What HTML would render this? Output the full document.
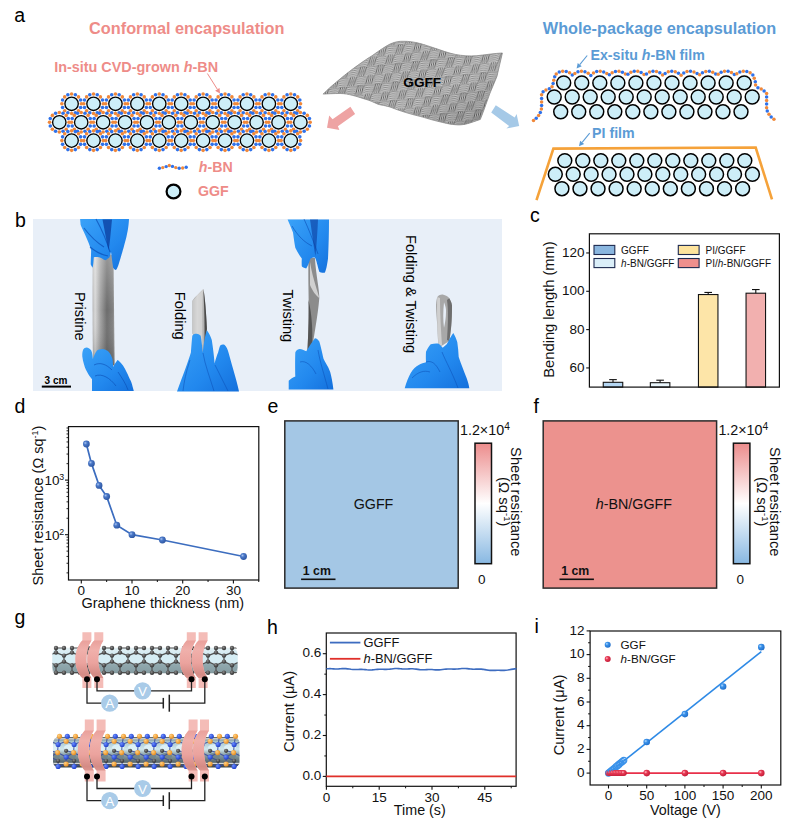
<!DOCTYPE html>
<html><head><meta charset="utf-8"><style>
html,body{margin:0;padding:0;background:#fff;}
svg{display:block;font-family:"Liberation Sans",sans-serif;}
</style></head><body>
<svg width="795" height="825" viewBox="0 0 795 825" font-family="Liberation Sans, sans-serif">
<rect width="795" height="825" fill="#fff"/>
<text x="14.30" y="22.00" font-size="19.5" fill="#000" text-anchor="start">a</text>
<text x="15.00" y="227.00" font-size="19.5" fill="#000" text-anchor="start">b</text>
<text x="530.00" y="222.30" font-size="19.5" fill="#000" text-anchor="start">c</text>
<text x="14.50" y="413.20" font-size="19.5" fill="#000" text-anchor="start">d</text>
<text x="267.50" y="413.20" font-size="19.5" fill="#000" text-anchor="start">e</text>
<text x="533.50" y="413.20" font-size="19.5" fill="#000" text-anchor="start">f</text>
<text x="14.50" y="624.20" font-size="19.5" fill="#000" text-anchor="start">g</text>
<text x="266.90" y="633.50" font-size="19.5" fill="#000" text-anchor="start">h</text>
<text x="534.50" y="633.00" font-size="19.5" fill="#000" text-anchor="start">i</text>
<text x="186.80" y="34.20" font-size="16.3" fill="#ee8c88" text-anchor="middle" font-weight="bold">Conformal encapsulation</text>
<text x="54.20" y="72.30" font-size="14.4" fill="#ee8c88" text-anchor="start" font-weight="bold">In-situ CVD-grown <tspan font-style="italic">h</tspan>-BN</text>
<line x1="207.4" y1="73.5" x2="217.33" y2="89.27" stroke="#ee8c88" stroke-width="1.0"/>
<polygon points="220,93.5 215.13,90.66 219.53,87.88" fill="#ee8c88"/>
<circle cx="71.60" cy="94.05" r="1.8" fill="#f0883a"/><circle cx="75.33" cy="94.79" r="1.8" fill="#2f72ea"/><circle cx="78.49" cy="96.91" r="1.8" fill="#f0883a"/><circle cx="80.61" cy="100.07" r="1.8" fill="#2f72ea"/><circle cx="81.35" cy="103.80" r="1.8" fill="#f0883a"/><circle cx="80.61" cy="107.53" r="1.8" fill="#2f72ea"/><circle cx="78.49" cy="110.69" r="1.8" fill="#f0883a"/><circle cx="75.33" cy="112.81" r="1.8" fill="#2f72ea"/><circle cx="71.60" cy="113.55" r="1.8" fill="#f0883a"/><circle cx="67.87" cy="112.81" r="1.8" fill="#2f72ea"/><circle cx="64.71" cy="110.69" r="1.8" fill="#f0883a"/><circle cx="62.59" cy="107.53" r="1.8" fill="#2f72ea"/><circle cx="61.85" cy="103.80" r="1.8" fill="#f0883a"/><circle cx="62.59" cy="100.07" r="1.8" fill="#2f72ea"/><circle cx="64.71" cy="96.91" r="1.8" fill="#f0883a"/><circle cx="67.87" cy="94.79" r="1.8" fill="#2f72ea"/><circle cx="93.52" cy="94.05" r="1.8" fill="#f0883a"/><circle cx="97.25" cy="94.79" r="1.8" fill="#2f72ea"/><circle cx="100.41" cy="96.91" r="1.8" fill="#f0883a"/><circle cx="102.53" cy="100.07" r="1.8" fill="#2f72ea"/><circle cx="103.27" cy="103.80" r="1.8" fill="#f0883a"/><circle cx="102.53" cy="107.53" r="1.8" fill="#2f72ea"/><circle cx="100.41" cy="110.69" r="1.8" fill="#f0883a"/><circle cx="97.25" cy="112.81" r="1.8" fill="#2f72ea"/><circle cx="93.52" cy="113.55" r="1.8" fill="#f0883a"/><circle cx="89.79" cy="112.81" r="1.8" fill="#2f72ea"/><circle cx="86.63" cy="110.69" r="1.8" fill="#f0883a"/><circle cx="84.51" cy="107.53" r="1.8" fill="#2f72ea"/><circle cx="83.77" cy="103.80" r="1.8" fill="#f0883a"/><circle cx="84.51" cy="100.07" r="1.8" fill="#2f72ea"/><circle cx="86.63" cy="96.91" r="1.8" fill="#f0883a"/><circle cx="89.79" cy="94.79" r="1.8" fill="#2f72ea"/><circle cx="115.44" cy="94.05" r="1.8" fill="#f0883a"/><circle cx="119.17" cy="94.79" r="1.8" fill="#2f72ea"/><circle cx="122.33" cy="96.91" r="1.8" fill="#f0883a"/><circle cx="124.45" cy="100.07" r="1.8" fill="#2f72ea"/><circle cx="125.19" cy="103.80" r="1.8" fill="#f0883a"/><circle cx="124.45" cy="107.53" r="1.8" fill="#2f72ea"/><circle cx="122.33" cy="110.69" r="1.8" fill="#f0883a"/><circle cx="119.17" cy="112.81" r="1.8" fill="#2f72ea"/><circle cx="115.44" cy="113.55" r="1.8" fill="#f0883a"/><circle cx="111.71" cy="112.81" r="1.8" fill="#2f72ea"/><circle cx="108.55" cy="110.69" r="1.8" fill="#f0883a"/><circle cx="106.43" cy="107.53" r="1.8" fill="#2f72ea"/><circle cx="105.69" cy="103.80" r="1.8" fill="#f0883a"/><circle cx="106.43" cy="100.07" r="1.8" fill="#2f72ea"/><circle cx="108.55" cy="96.91" r="1.8" fill="#f0883a"/><circle cx="111.71" cy="94.79" r="1.8" fill="#2f72ea"/><circle cx="137.36" cy="94.05" r="1.8" fill="#f0883a"/><circle cx="141.09" cy="94.79" r="1.8" fill="#2f72ea"/><circle cx="144.25" cy="96.91" r="1.8" fill="#f0883a"/><circle cx="146.37" cy="100.07" r="1.8" fill="#2f72ea"/><circle cx="147.11" cy="103.80" r="1.8" fill="#f0883a"/><circle cx="146.37" cy="107.53" r="1.8" fill="#2f72ea"/><circle cx="144.25" cy="110.69" r="1.8" fill="#f0883a"/><circle cx="141.09" cy="112.81" r="1.8" fill="#2f72ea"/><circle cx="137.36" cy="113.55" r="1.8" fill="#f0883a"/><circle cx="133.63" cy="112.81" r="1.8" fill="#2f72ea"/><circle cx="130.47" cy="110.69" r="1.8" fill="#f0883a"/><circle cx="128.35" cy="107.53" r="1.8" fill="#2f72ea"/><circle cx="127.61" cy="103.80" r="1.8" fill="#f0883a"/><circle cx="128.35" cy="100.07" r="1.8" fill="#2f72ea"/><circle cx="130.47" cy="96.91" r="1.8" fill="#f0883a"/><circle cx="133.63" cy="94.79" r="1.8" fill="#2f72ea"/><circle cx="159.28" cy="94.05" r="1.8" fill="#f0883a"/><circle cx="163.01" cy="94.79" r="1.8" fill="#2f72ea"/><circle cx="166.17" cy="96.91" r="1.8" fill="#f0883a"/><circle cx="168.29" cy="100.07" r="1.8" fill="#2f72ea"/><circle cx="169.03" cy="103.80" r="1.8" fill="#f0883a"/><circle cx="168.29" cy="107.53" r="1.8" fill="#2f72ea"/><circle cx="166.17" cy="110.69" r="1.8" fill="#f0883a"/><circle cx="163.01" cy="112.81" r="1.8" fill="#2f72ea"/><circle cx="159.28" cy="113.55" r="1.8" fill="#f0883a"/><circle cx="155.55" cy="112.81" r="1.8" fill="#2f72ea"/><circle cx="152.39" cy="110.69" r="1.8" fill="#f0883a"/><circle cx="150.27" cy="107.53" r="1.8" fill="#2f72ea"/><circle cx="149.53" cy="103.80" r="1.8" fill="#f0883a"/><circle cx="150.27" cy="100.07" r="1.8" fill="#2f72ea"/><circle cx="152.39" cy="96.91" r="1.8" fill="#f0883a"/><circle cx="155.55" cy="94.79" r="1.8" fill="#2f72ea"/><circle cx="181.20" cy="94.05" r="1.8" fill="#f0883a"/><circle cx="184.93" cy="94.79" r="1.8" fill="#2f72ea"/><circle cx="188.09" cy="96.91" r="1.8" fill="#f0883a"/><circle cx="190.21" cy="100.07" r="1.8" fill="#2f72ea"/><circle cx="190.95" cy="103.80" r="1.8" fill="#f0883a"/><circle cx="190.21" cy="107.53" r="1.8" fill="#2f72ea"/><circle cx="188.09" cy="110.69" r="1.8" fill="#f0883a"/><circle cx="184.93" cy="112.81" r="1.8" fill="#2f72ea"/><circle cx="181.20" cy="113.55" r="1.8" fill="#f0883a"/><circle cx="177.47" cy="112.81" r="1.8" fill="#2f72ea"/><circle cx="174.31" cy="110.69" r="1.8" fill="#f0883a"/><circle cx="172.19" cy="107.53" r="1.8" fill="#2f72ea"/><circle cx="171.45" cy="103.80" r="1.8" fill="#f0883a"/><circle cx="172.19" cy="100.07" r="1.8" fill="#2f72ea"/><circle cx="174.31" cy="96.91" r="1.8" fill="#f0883a"/><circle cx="177.47" cy="94.79" r="1.8" fill="#2f72ea"/><circle cx="203.12" cy="94.05" r="1.8" fill="#f0883a"/><circle cx="206.85" cy="94.79" r="1.8" fill="#2f72ea"/><circle cx="210.01" cy="96.91" r="1.8" fill="#f0883a"/><circle cx="212.13" cy="100.07" r="1.8" fill="#2f72ea"/><circle cx="212.87" cy="103.80" r="1.8" fill="#f0883a"/><circle cx="212.13" cy="107.53" r="1.8" fill="#2f72ea"/><circle cx="210.01" cy="110.69" r="1.8" fill="#f0883a"/><circle cx="206.85" cy="112.81" r="1.8" fill="#2f72ea"/><circle cx="203.12" cy="113.55" r="1.8" fill="#f0883a"/><circle cx="199.39" cy="112.81" r="1.8" fill="#2f72ea"/><circle cx="196.23" cy="110.69" r="1.8" fill="#f0883a"/><circle cx="194.11" cy="107.53" r="1.8" fill="#2f72ea"/><circle cx="193.37" cy="103.80" r="1.8" fill="#f0883a"/><circle cx="194.11" cy="100.07" r="1.8" fill="#2f72ea"/><circle cx="196.23" cy="96.91" r="1.8" fill="#f0883a"/><circle cx="199.39" cy="94.79" r="1.8" fill="#2f72ea"/><circle cx="225.04" cy="94.05" r="1.8" fill="#f0883a"/><circle cx="228.77" cy="94.79" r="1.8" fill="#2f72ea"/><circle cx="231.93" cy="96.91" r="1.8" fill="#f0883a"/><circle cx="234.05" cy="100.07" r="1.8" fill="#2f72ea"/><circle cx="234.79" cy="103.80" r="1.8" fill="#f0883a"/><circle cx="234.05" cy="107.53" r="1.8" fill="#2f72ea"/><circle cx="231.93" cy="110.69" r="1.8" fill="#f0883a"/><circle cx="228.77" cy="112.81" r="1.8" fill="#2f72ea"/><circle cx="225.04" cy="113.55" r="1.8" fill="#f0883a"/><circle cx="221.31" cy="112.81" r="1.8" fill="#2f72ea"/><circle cx="218.15" cy="110.69" r="1.8" fill="#f0883a"/><circle cx="216.03" cy="107.53" r="1.8" fill="#2f72ea"/><circle cx="215.29" cy="103.80" r="1.8" fill="#f0883a"/><circle cx="216.03" cy="100.07" r="1.8" fill="#2f72ea"/><circle cx="218.15" cy="96.91" r="1.8" fill="#f0883a"/><circle cx="221.31" cy="94.79" r="1.8" fill="#2f72ea"/><circle cx="246.96" cy="94.05" r="1.8" fill="#f0883a"/><circle cx="250.69" cy="94.79" r="1.8" fill="#2f72ea"/><circle cx="253.85" cy="96.91" r="1.8" fill="#f0883a"/><circle cx="255.97" cy="100.07" r="1.8" fill="#2f72ea"/><circle cx="256.71" cy="103.80" r="1.8" fill="#f0883a"/><circle cx="255.97" cy="107.53" r="1.8" fill="#2f72ea"/><circle cx="253.85" cy="110.69" r="1.8" fill="#f0883a"/><circle cx="250.69" cy="112.81" r="1.8" fill="#2f72ea"/><circle cx="246.96" cy="113.55" r="1.8" fill="#f0883a"/><circle cx="243.23" cy="112.81" r="1.8" fill="#2f72ea"/><circle cx="240.07" cy="110.69" r="1.8" fill="#f0883a"/><circle cx="237.95" cy="107.53" r="1.8" fill="#2f72ea"/><circle cx="237.21" cy="103.80" r="1.8" fill="#f0883a"/><circle cx="237.95" cy="100.07" r="1.8" fill="#2f72ea"/><circle cx="240.07" cy="96.91" r="1.8" fill="#f0883a"/><circle cx="243.23" cy="94.79" r="1.8" fill="#2f72ea"/><circle cx="268.88" cy="94.05" r="1.8" fill="#f0883a"/><circle cx="272.61" cy="94.79" r="1.8" fill="#2f72ea"/><circle cx="275.77" cy="96.91" r="1.8" fill="#f0883a"/><circle cx="277.89" cy="100.07" r="1.8" fill="#2f72ea"/><circle cx="278.63" cy="103.80" r="1.8" fill="#f0883a"/><circle cx="277.89" cy="107.53" r="1.8" fill="#2f72ea"/><circle cx="275.77" cy="110.69" r="1.8" fill="#f0883a"/><circle cx="272.61" cy="112.81" r="1.8" fill="#2f72ea"/><circle cx="268.88" cy="113.55" r="1.8" fill="#f0883a"/><circle cx="265.15" cy="112.81" r="1.8" fill="#2f72ea"/><circle cx="261.99" cy="110.69" r="1.8" fill="#f0883a"/><circle cx="259.87" cy="107.53" r="1.8" fill="#2f72ea"/><circle cx="259.13" cy="103.80" r="1.8" fill="#f0883a"/><circle cx="259.87" cy="100.07" r="1.8" fill="#2f72ea"/><circle cx="261.99" cy="96.91" r="1.8" fill="#f0883a"/><circle cx="265.15" cy="94.79" r="1.8" fill="#2f72ea"/><circle cx="290.80" cy="94.05" r="1.8" fill="#f0883a"/><circle cx="294.53" cy="94.79" r="1.8" fill="#2f72ea"/><circle cx="297.69" cy="96.91" r="1.8" fill="#f0883a"/><circle cx="299.81" cy="100.07" r="1.8" fill="#2f72ea"/><circle cx="300.55" cy="103.80" r="1.8" fill="#f0883a"/><circle cx="299.81" cy="107.53" r="1.8" fill="#2f72ea"/><circle cx="297.69" cy="110.69" r="1.8" fill="#f0883a"/><circle cx="294.53" cy="112.81" r="1.8" fill="#2f72ea"/><circle cx="290.80" cy="113.55" r="1.8" fill="#f0883a"/><circle cx="287.07" cy="112.81" r="1.8" fill="#2f72ea"/><circle cx="283.91" cy="110.69" r="1.8" fill="#f0883a"/><circle cx="281.79" cy="107.53" r="1.8" fill="#2f72ea"/><circle cx="281.05" cy="103.80" r="1.8" fill="#f0883a"/><circle cx="281.79" cy="100.07" r="1.8" fill="#2f72ea"/><circle cx="283.91" cy="96.91" r="1.8" fill="#f0883a"/><circle cx="287.07" cy="94.79" r="1.8" fill="#2f72ea"/><circle cx="59.30" cy="112.55" r="1.8" fill="#f0883a"/><circle cx="63.03" cy="113.29" r="1.8" fill="#2f72ea"/><circle cx="66.19" cy="115.41" r="1.8" fill="#f0883a"/><circle cx="68.31" cy="118.57" r="1.8" fill="#2f72ea"/><circle cx="69.05" cy="122.30" r="1.8" fill="#f0883a"/><circle cx="68.31" cy="126.03" r="1.8" fill="#2f72ea"/><circle cx="66.19" cy="129.19" r="1.8" fill="#f0883a"/><circle cx="63.03" cy="131.31" r="1.8" fill="#2f72ea"/><circle cx="59.30" cy="132.05" r="1.8" fill="#f0883a"/><circle cx="55.57" cy="131.31" r="1.8" fill="#2f72ea"/><circle cx="52.41" cy="129.19" r="1.8" fill="#f0883a"/><circle cx="50.29" cy="126.03" r="1.8" fill="#2f72ea"/><circle cx="49.55" cy="122.30" r="1.8" fill="#f0883a"/><circle cx="50.29" cy="118.57" r="1.8" fill="#2f72ea"/><circle cx="52.41" cy="115.41" r="1.8" fill="#f0883a"/><circle cx="55.57" cy="113.29" r="1.8" fill="#2f72ea"/><circle cx="81.22" cy="112.55" r="1.8" fill="#f0883a"/><circle cx="84.95" cy="113.29" r="1.8" fill="#2f72ea"/><circle cx="88.11" cy="115.41" r="1.8" fill="#f0883a"/><circle cx="90.23" cy="118.57" r="1.8" fill="#2f72ea"/><circle cx="90.97" cy="122.30" r="1.8" fill="#f0883a"/><circle cx="90.23" cy="126.03" r="1.8" fill="#2f72ea"/><circle cx="88.11" cy="129.19" r="1.8" fill="#f0883a"/><circle cx="84.95" cy="131.31" r="1.8" fill="#2f72ea"/><circle cx="81.22" cy="132.05" r="1.8" fill="#f0883a"/><circle cx="77.49" cy="131.31" r="1.8" fill="#2f72ea"/><circle cx="74.33" cy="129.19" r="1.8" fill="#f0883a"/><circle cx="72.21" cy="126.03" r="1.8" fill="#2f72ea"/><circle cx="71.47" cy="122.30" r="1.8" fill="#f0883a"/><circle cx="72.21" cy="118.57" r="1.8" fill="#2f72ea"/><circle cx="74.33" cy="115.41" r="1.8" fill="#f0883a"/><circle cx="77.49" cy="113.29" r="1.8" fill="#2f72ea"/><circle cx="103.14" cy="112.55" r="1.8" fill="#f0883a"/><circle cx="106.87" cy="113.29" r="1.8" fill="#2f72ea"/><circle cx="110.03" cy="115.41" r="1.8" fill="#f0883a"/><circle cx="112.15" cy="118.57" r="1.8" fill="#2f72ea"/><circle cx="112.89" cy="122.30" r="1.8" fill="#f0883a"/><circle cx="112.15" cy="126.03" r="1.8" fill="#2f72ea"/><circle cx="110.03" cy="129.19" r="1.8" fill="#f0883a"/><circle cx="106.87" cy="131.31" r="1.8" fill="#2f72ea"/><circle cx="103.14" cy="132.05" r="1.8" fill="#f0883a"/><circle cx="99.41" cy="131.31" r="1.8" fill="#2f72ea"/><circle cx="96.25" cy="129.19" r="1.8" fill="#f0883a"/><circle cx="94.13" cy="126.03" r="1.8" fill="#2f72ea"/><circle cx="93.39" cy="122.30" r="1.8" fill="#f0883a"/><circle cx="94.13" cy="118.57" r="1.8" fill="#2f72ea"/><circle cx="96.25" cy="115.41" r="1.8" fill="#f0883a"/><circle cx="99.41" cy="113.29" r="1.8" fill="#2f72ea"/><circle cx="125.06" cy="112.55" r="1.8" fill="#f0883a"/><circle cx="128.79" cy="113.29" r="1.8" fill="#2f72ea"/><circle cx="131.95" cy="115.41" r="1.8" fill="#f0883a"/><circle cx="134.07" cy="118.57" r="1.8" fill="#2f72ea"/><circle cx="134.81" cy="122.30" r="1.8" fill="#f0883a"/><circle cx="134.07" cy="126.03" r="1.8" fill="#2f72ea"/><circle cx="131.95" cy="129.19" r="1.8" fill="#f0883a"/><circle cx="128.79" cy="131.31" r="1.8" fill="#2f72ea"/><circle cx="125.06" cy="132.05" r="1.8" fill="#f0883a"/><circle cx="121.33" cy="131.31" r="1.8" fill="#2f72ea"/><circle cx="118.17" cy="129.19" r="1.8" fill="#f0883a"/><circle cx="116.05" cy="126.03" r="1.8" fill="#2f72ea"/><circle cx="115.31" cy="122.30" r="1.8" fill="#f0883a"/><circle cx="116.05" cy="118.57" r="1.8" fill="#2f72ea"/><circle cx="118.17" cy="115.41" r="1.8" fill="#f0883a"/><circle cx="121.33" cy="113.29" r="1.8" fill="#2f72ea"/><circle cx="146.98" cy="112.55" r="1.8" fill="#f0883a"/><circle cx="150.71" cy="113.29" r="1.8" fill="#2f72ea"/><circle cx="153.87" cy="115.41" r="1.8" fill="#f0883a"/><circle cx="155.99" cy="118.57" r="1.8" fill="#2f72ea"/><circle cx="156.73" cy="122.30" r="1.8" fill="#f0883a"/><circle cx="155.99" cy="126.03" r="1.8" fill="#2f72ea"/><circle cx="153.87" cy="129.19" r="1.8" fill="#f0883a"/><circle cx="150.71" cy="131.31" r="1.8" fill="#2f72ea"/><circle cx="146.98" cy="132.05" r="1.8" fill="#f0883a"/><circle cx="143.25" cy="131.31" r="1.8" fill="#2f72ea"/><circle cx="140.09" cy="129.19" r="1.8" fill="#f0883a"/><circle cx="137.97" cy="126.03" r="1.8" fill="#2f72ea"/><circle cx="137.23" cy="122.30" r="1.8" fill="#f0883a"/><circle cx="137.97" cy="118.57" r="1.8" fill="#2f72ea"/><circle cx="140.09" cy="115.41" r="1.8" fill="#f0883a"/><circle cx="143.25" cy="113.29" r="1.8" fill="#2f72ea"/><circle cx="168.90" cy="112.55" r="1.8" fill="#f0883a"/><circle cx="172.63" cy="113.29" r="1.8" fill="#2f72ea"/><circle cx="175.79" cy="115.41" r="1.8" fill="#f0883a"/><circle cx="177.91" cy="118.57" r="1.8" fill="#2f72ea"/><circle cx="178.65" cy="122.30" r="1.8" fill="#f0883a"/><circle cx="177.91" cy="126.03" r="1.8" fill="#2f72ea"/><circle cx="175.79" cy="129.19" r="1.8" fill="#f0883a"/><circle cx="172.63" cy="131.31" r="1.8" fill="#2f72ea"/><circle cx="168.90" cy="132.05" r="1.8" fill="#f0883a"/><circle cx="165.17" cy="131.31" r="1.8" fill="#2f72ea"/><circle cx="162.01" cy="129.19" r="1.8" fill="#f0883a"/><circle cx="159.89" cy="126.03" r="1.8" fill="#2f72ea"/><circle cx="159.15" cy="122.30" r="1.8" fill="#f0883a"/><circle cx="159.89" cy="118.57" r="1.8" fill="#2f72ea"/><circle cx="162.01" cy="115.41" r="1.8" fill="#f0883a"/><circle cx="165.17" cy="113.29" r="1.8" fill="#2f72ea"/><circle cx="190.82" cy="112.55" r="1.8" fill="#f0883a"/><circle cx="194.55" cy="113.29" r="1.8" fill="#2f72ea"/><circle cx="197.71" cy="115.41" r="1.8" fill="#f0883a"/><circle cx="199.83" cy="118.57" r="1.8" fill="#2f72ea"/><circle cx="200.57" cy="122.30" r="1.8" fill="#f0883a"/><circle cx="199.83" cy="126.03" r="1.8" fill="#2f72ea"/><circle cx="197.71" cy="129.19" r="1.8" fill="#f0883a"/><circle cx="194.55" cy="131.31" r="1.8" fill="#2f72ea"/><circle cx="190.82" cy="132.05" r="1.8" fill="#f0883a"/><circle cx="187.09" cy="131.31" r="1.8" fill="#2f72ea"/><circle cx="183.93" cy="129.19" r="1.8" fill="#f0883a"/><circle cx="181.81" cy="126.03" r="1.8" fill="#2f72ea"/><circle cx="181.07" cy="122.30" r="1.8" fill="#f0883a"/><circle cx="181.81" cy="118.57" r="1.8" fill="#2f72ea"/><circle cx="183.93" cy="115.41" r="1.8" fill="#f0883a"/><circle cx="187.09" cy="113.29" r="1.8" fill="#2f72ea"/><circle cx="212.74" cy="112.55" r="1.8" fill="#f0883a"/><circle cx="216.47" cy="113.29" r="1.8" fill="#2f72ea"/><circle cx="219.63" cy="115.41" r="1.8" fill="#f0883a"/><circle cx="221.75" cy="118.57" r="1.8" fill="#2f72ea"/><circle cx="222.49" cy="122.30" r="1.8" fill="#f0883a"/><circle cx="221.75" cy="126.03" r="1.8" fill="#2f72ea"/><circle cx="219.63" cy="129.19" r="1.8" fill="#f0883a"/><circle cx="216.47" cy="131.31" r="1.8" fill="#2f72ea"/><circle cx="212.74" cy="132.05" r="1.8" fill="#f0883a"/><circle cx="209.01" cy="131.31" r="1.8" fill="#2f72ea"/><circle cx="205.85" cy="129.19" r="1.8" fill="#f0883a"/><circle cx="203.73" cy="126.03" r="1.8" fill="#2f72ea"/><circle cx="202.99" cy="122.30" r="1.8" fill="#f0883a"/><circle cx="203.73" cy="118.57" r="1.8" fill="#2f72ea"/><circle cx="205.85" cy="115.41" r="1.8" fill="#f0883a"/><circle cx="209.01" cy="113.29" r="1.8" fill="#2f72ea"/><circle cx="234.66" cy="112.55" r="1.8" fill="#f0883a"/><circle cx="238.39" cy="113.29" r="1.8" fill="#2f72ea"/><circle cx="241.55" cy="115.41" r="1.8" fill="#f0883a"/><circle cx="243.67" cy="118.57" r="1.8" fill="#2f72ea"/><circle cx="244.41" cy="122.30" r="1.8" fill="#f0883a"/><circle cx="243.67" cy="126.03" r="1.8" fill="#2f72ea"/><circle cx="241.55" cy="129.19" r="1.8" fill="#f0883a"/><circle cx="238.39" cy="131.31" r="1.8" fill="#2f72ea"/><circle cx="234.66" cy="132.05" r="1.8" fill="#f0883a"/><circle cx="230.93" cy="131.31" r="1.8" fill="#2f72ea"/><circle cx="227.77" cy="129.19" r="1.8" fill="#f0883a"/><circle cx="225.65" cy="126.03" r="1.8" fill="#2f72ea"/><circle cx="224.91" cy="122.30" r="1.8" fill="#f0883a"/><circle cx="225.65" cy="118.57" r="1.8" fill="#2f72ea"/><circle cx="227.77" cy="115.41" r="1.8" fill="#f0883a"/><circle cx="230.93" cy="113.29" r="1.8" fill="#2f72ea"/><circle cx="256.58" cy="112.55" r="1.8" fill="#f0883a"/><circle cx="260.31" cy="113.29" r="1.8" fill="#2f72ea"/><circle cx="263.47" cy="115.41" r="1.8" fill="#f0883a"/><circle cx="265.59" cy="118.57" r="1.8" fill="#2f72ea"/><circle cx="266.33" cy="122.30" r="1.8" fill="#f0883a"/><circle cx="265.59" cy="126.03" r="1.8" fill="#2f72ea"/><circle cx="263.47" cy="129.19" r="1.8" fill="#f0883a"/><circle cx="260.31" cy="131.31" r="1.8" fill="#2f72ea"/><circle cx="256.58" cy="132.05" r="1.8" fill="#f0883a"/><circle cx="252.85" cy="131.31" r="1.8" fill="#2f72ea"/><circle cx="249.69" cy="129.19" r="1.8" fill="#f0883a"/><circle cx="247.57" cy="126.03" r="1.8" fill="#2f72ea"/><circle cx="246.83" cy="122.30" r="1.8" fill="#f0883a"/><circle cx="247.57" cy="118.57" r="1.8" fill="#2f72ea"/><circle cx="249.69" cy="115.41" r="1.8" fill="#f0883a"/><circle cx="252.85" cy="113.29" r="1.8" fill="#2f72ea"/><circle cx="278.50" cy="112.55" r="1.8" fill="#f0883a"/><circle cx="282.23" cy="113.29" r="1.8" fill="#2f72ea"/><circle cx="285.39" cy="115.41" r="1.8" fill="#f0883a"/><circle cx="287.51" cy="118.57" r="1.8" fill="#2f72ea"/><circle cx="288.25" cy="122.30" r="1.8" fill="#f0883a"/><circle cx="287.51" cy="126.03" r="1.8" fill="#2f72ea"/><circle cx="285.39" cy="129.19" r="1.8" fill="#f0883a"/><circle cx="282.23" cy="131.31" r="1.8" fill="#2f72ea"/><circle cx="278.50" cy="132.05" r="1.8" fill="#f0883a"/><circle cx="274.77" cy="131.31" r="1.8" fill="#2f72ea"/><circle cx="271.61" cy="129.19" r="1.8" fill="#f0883a"/><circle cx="269.49" cy="126.03" r="1.8" fill="#2f72ea"/><circle cx="268.75" cy="122.30" r="1.8" fill="#f0883a"/><circle cx="269.49" cy="118.57" r="1.8" fill="#2f72ea"/><circle cx="271.61" cy="115.41" r="1.8" fill="#f0883a"/><circle cx="274.77" cy="113.29" r="1.8" fill="#2f72ea"/><circle cx="300.42" cy="112.55" r="1.8" fill="#f0883a"/><circle cx="304.15" cy="113.29" r="1.8" fill="#2f72ea"/><circle cx="307.31" cy="115.41" r="1.8" fill="#f0883a"/><circle cx="309.43" cy="118.57" r="1.8" fill="#2f72ea"/><circle cx="310.17" cy="122.30" r="1.8" fill="#f0883a"/><circle cx="309.43" cy="126.03" r="1.8" fill="#2f72ea"/><circle cx="307.31" cy="129.19" r="1.8" fill="#f0883a"/><circle cx="304.15" cy="131.31" r="1.8" fill="#2f72ea"/><circle cx="300.42" cy="132.05" r="1.8" fill="#f0883a"/><circle cx="296.69" cy="131.31" r="1.8" fill="#2f72ea"/><circle cx="293.53" cy="129.19" r="1.8" fill="#f0883a"/><circle cx="291.41" cy="126.03" r="1.8" fill="#2f72ea"/><circle cx="290.67" cy="122.30" r="1.8" fill="#f0883a"/><circle cx="291.41" cy="118.57" r="1.8" fill="#2f72ea"/><circle cx="293.53" cy="115.41" r="1.8" fill="#f0883a"/><circle cx="296.69" cy="113.29" r="1.8" fill="#2f72ea"/><circle cx="71.60" cy="130.85" r="1.8" fill="#f0883a"/><circle cx="75.33" cy="131.59" r="1.8" fill="#2f72ea"/><circle cx="78.49" cy="133.71" r="1.8" fill="#f0883a"/><circle cx="80.61" cy="136.87" r="1.8" fill="#2f72ea"/><circle cx="81.35" cy="140.60" r="1.8" fill="#f0883a"/><circle cx="80.61" cy="144.33" r="1.8" fill="#2f72ea"/><circle cx="78.49" cy="147.49" r="1.8" fill="#f0883a"/><circle cx="75.33" cy="149.61" r="1.8" fill="#2f72ea"/><circle cx="71.60" cy="150.35" r="1.8" fill="#f0883a"/><circle cx="67.87" cy="149.61" r="1.8" fill="#2f72ea"/><circle cx="64.71" cy="147.49" r="1.8" fill="#f0883a"/><circle cx="62.59" cy="144.33" r="1.8" fill="#2f72ea"/><circle cx="61.85" cy="140.60" r="1.8" fill="#f0883a"/><circle cx="62.59" cy="136.87" r="1.8" fill="#2f72ea"/><circle cx="64.71" cy="133.71" r="1.8" fill="#f0883a"/><circle cx="67.87" cy="131.59" r="1.8" fill="#2f72ea"/><circle cx="93.52" cy="130.85" r="1.8" fill="#f0883a"/><circle cx="97.25" cy="131.59" r="1.8" fill="#2f72ea"/><circle cx="100.41" cy="133.71" r="1.8" fill="#f0883a"/><circle cx="102.53" cy="136.87" r="1.8" fill="#2f72ea"/><circle cx="103.27" cy="140.60" r="1.8" fill="#f0883a"/><circle cx="102.53" cy="144.33" r="1.8" fill="#2f72ea"/><circle cx="100.41" cy="147.49" r="1.8" fill="#f0883a"/><circle cx="97.25" cy="149.61" r="1.8" fill="#2f72ea"/><circle cx="93.52" cy="150.35" r="1.8" fill="#f0883a"/><circle cx="89.79" cy="149.61" r="1.8" fill="#2f72ea"/><circle cx="86.63" cy="147.49" r="1.8" fill="#f0883a"/><circle cx="84.51" cy="144.33" r="1.8" fill="#2f72ea"/><circle cx="83.77" cy="140.60" r="1.8" fill="#f0883a"/><circle cx="84.51" cy="136.87" r="1.8" fill="#2f72ea"/><circle cx="86.63" cy="133.71" r="1.8" fill="#f0883a"/><circle cx="89.79" cy="131.59" r="1.8" fill="#2f72ea"/><circle cx="115.44" cy="130.85" r="1.8" fill="#f0883a"/><circle cx="119.17" cy="131.59" r="1.8" fill="#2f72ea"/><circle cx="122.33" cy="133.71" r="1.8" fill="#f0883a"/><circle cx="124.45" cy="136.87" r="1.8" fill="#2f72ea"/><circle cx="125.19" cy="140.60" r="1.8" fill="#f0883a"/><circle cx="124.45" cy="144.33" r="1.8" fill="#2f72ea"/><circle cx="122.33" cy="147.49" r="1.8" fill="#f0883a"/><circle cx="119.17" cy="149.61" r="1.8" fill="#2f72ea"/><circle cx="115.44" cy="150.35" r="1.8" fill="#f0883a"/><circle cx="111.71" cy="149.61" r="1.8" fill="#2f72ea"/><circle cx="108.55" cy="147.49" r="1.8" fill="#f0883a"/><circle cx="106.43" cy="144.33" r="1.8" fill="#2f72ea"/><circle cx="105.69" cy="140.60" r="1.8" fill="#f0883a"/><circle cx="106.43" cy="136.87" r="1.8" fill="#2f72ea"/><circle cx="108.55" cy="133.71" r="1.8" fill="#f0883a"/><circle cx="111.71" cy="131.59" r="1.8" fill="#2f72ea"/><circle cx="137.36" cy="130.85" r="1.8" fill="#f0883a"/><circle cx="141.09" cy="131.59" r="1.8" fill="#2f72ea"/><circle cx="144.25" cy="133.71" r="1.8" fill="#f0883a"/><circle cx="146.37" cy="136.87" r="1.8" fill="#2f72ea"/><circle cx="147.11" cy="140.60" r="1.8" fill="#f0883a"/><circle cx="146.37" cy="144.33" r="1.8" fill="#2f72ea"/><circle cx="144.25" cy="147.49" r="1.8" fill="#f0883a"/><circle cx="141.09" cy="149.61" r="1.8" fill="#2f72ea"/><circle cx="137.36" cy="150.35" r="1.8" fill="#f0883a"/><circle cx="133.63" cy="149.61" r="1.8" fill="#2f72ea"/><circle cx="130.47" cy="147.49" r="1.8" fill="#f0883a"/><circle cx="128.35" cy="144.33" r="1.8" fill="#2f72ea"/><circle cx="127.61" cy="140.60" r="1.8" fill="#f0883a"/><circle cx="128.35" cy="136.87" r="1.8" fill="#2f72ea"/><circle cx="130.47" cy="133.71" r="1.8" fill="#f0883a"/><circle cx="133.63" cy="131.59" r="1.8" fill="#2f72ea"/><circle cx="159.28" cy="130.85" r="1.8" fill="#f0883a"/><circle cx="163.01" cy="131.59" r="1.8" fill="#2f72ea"/><circle cx="166.17" cy="133.71" r="1.8" fill="#f0883a"/><circle cx="168.29" cy="136.87" r="1.8" fill="#2f72ea"/><circle cx="169.03" cy="140.60" r="1.8" fill="#f0883a"/><circle cx="168.29" cy="144.33" r="1.8" fill="#2f72ea"/><circle cx="166.17" cy="147.49" r="1.8" fill="#f0883a"/><circle cx="163.01" cy="149.61" r="1.8" fill="#2f72ea"/><circle cx="159.28" cy="150.35" r="1.8" fill="#f0883a"/><circle cx="155.55" cy="149.61" r="1.8" fill="#2f72ea"/><circle cx="152.39" cy="147.49" r="1.8" fill="#f0883a"/><circle cx="150.27" cy="144.33" r="1.8" fill="#2f72ea"/><circle cx="149.53" cy="140.60" r="1.8" fill="#f0883a"/><circle cx="150.27" cy="136.87" r="1.8" fill="#2f72ea"/><circle cx="152.39" cy="133.71" r="1.8" fill="#f0883a"/><circle cx="155.55" cy="131.59" r="1.8" fill="#2f72ea"/><circle cx="181.20" cy="130.85" r="1.8" fill="#f0883a"/><circle cx="184.93" cy="131.59" r="1.8" fill="#2f72ea"/><circle cx="188.09" cy="133.71" r="1.8" fill="#f0883a"/><circle cx="190.21" cy="136.87" r="1.8" fill="#2f72ea"/><circle cx="190.95" cy="140.60" r="1.8" fill="#f0883a"/><circle cx="190.21" cy="144.33" r="1.8" fill="#2f72ea"/><circle cx="188.09" cy="147.49" r="1.8" fill="#f0883a"/><circle cx="184.93" cy="149.61" r="1.8" fill="#2f72ea"/><circle cx="181.20" cy="150.35" r="1.8" fill="#f0883a"/><circle cx="177.47" cy="149.61" r="1.8" fill="#2f72ea"/><circle cx="174.31" cy="147.49" r="1.8" fill="#f0883a"/><circle cx="172.19" cy="144.33" r="1.8" fill="#2f72ea"/><circle cx="171.45" cy="140.60" r="1.8" fill="#f0883a"/><circle cx="172.19" cy="136.87" r="1.8" fill="#2f72ea"/><circle cx="174.31" cy="133.71" r="1.8" fill="#f0883a"/><circle cx="177.47" cy="131.59" r="1.8" fill="#2f72ea"/><circle cx="203.12" cy="130.85" r="1.8" fill="#f0883a"/><circle cx="206.85" cy="131.59" r="1.8" fill="#2f72ea"/><circle cx="210.01" cy="133.71" r="1.8" fill="#f0883a"/><circle cx="212.13" cy="136.87" r="1.8" fill="#2f72ea"/><circle cx="212.87" cy="140.60" r="1.8" fill="#f0883a"/><circle cx="212.13" cy="144.33" r="1.8" fill="#2f72ea"/><circle cx="210.01" cy="147.49" r="1.8" fill="#f0883a"/><circle cx="206.85" cy="149.61" r="1.8" fill="#2f72ea"/><circle cx="203.12" cy="150.35" r="1.8" fill="#f0883a"/><circle cx="199.39" cy="149.61" r="1.8" fill="#2f72ea"/><circle cx="196.23" cy="147.49" r="1.8" fill="#f0883a"/><circle cx="194.11" cy="144.33" r="1.8" fill="#2f72ea"/><circle cx="193.37" cy="140.60" r="1.8" fill="#f0883a"/><circle cx="194.11" cy="136.87" r="1.8" fill="#2f72ea"/><circle cx="196.23" cy="133.71" r="1.8" fill="#f0883a"/><circle cx="199.39" cy="131.59" r="1.8" fill="#2f72ea"/><circle cx="225.04" cy="130.85" r="1.8" fill="#f0883a"/><circle cx="228.77" cy="131.59" r="1.8" fill="#2f72ea"/><circle cx="231.93" cy="133.71" r="1.8" fill="#f0883a"/><circle cx="234.05" cy="136.87" r="1.8" fill="#2f72ea"/><circle cx="234.79" cy="140.60" r="1.8" fill="#f0883a"/><circle cx="234.05" cy="144.33" r="1.8" fill="#2f72ea"/><circle cx="231.93" cy="147.49" r="1.8" fill="#f0883a"/><circle cx="228.77" cy="149.61" r="1.8" fill="#2f72ea"/><circle cx="225.04" cy="150.35" r="1.8" fill="#f0883a"/><circle cx="221.31" cy="149.61" r="1.8" fill="#2f72ea"/><circle cx="218.15" cy="147.49" r="1.8" fill="#f0883a"/><circle cx="216.03" cy="144.33" r="1.8" fill="#2f72ea"/><circle cx="215.29" cy="140.60" r="1.8" fill="#f0883a"/><circle cx="216.03" cy="136.87" r="1.8" fill="#2f72ea"/><circle cx="218.15" cy="133.71" r="1.8" fill="#f0883a"/><circle cx="221.31" cy="131.59" r="1.8" fill="#2f72ea"/><circle cx="246.96" cy="130.85" r="1.8" fill="#f0883a"/><circle cx="250.69" cy="131.59" r="1.8" fill="#2f72ea"/><circle cx="253.85" cy="133.71" r="1.8" fill="#f0883a"/><circle cx="255.97" cy="136.87" r="1.8" fill="#2f72ea"/><circle cx="256.71" cy="140.60" r="1.8" fill="#f0883a"/><circle cx="255.97" cy="144.33" r="1.8" fill="#2f72ea"/><circle cx="253.85" cy="147.49" r="1.8" fill="#f0883a"/><circle cx="250.69" cy="149.61" r="1.8" fill="#2f72ea"/><circle cx="246.96" cy="150.35" r="1.8" fill="#f0883a"/><circle cx="243.23" cy="149.61" r="1.8" fill="#2f72ea"/><circle cx="240.07" cy="147.49" r="1.8" fill="#f0883a"/><circle cx="237.95" cy="144.33" r="1.8" fill="#2f72ea"/><circle cx="237.21" cy="140.60" r="1.8" fill="#f0883a"/><circle cx="237.95" cy="136.87" r="1.8" fill="#2f72ea"/><circle cx="240.07" cy="133.71" r="1.8" fill="#f0883a"/><circle cx="243.23" cy="131.59" r="1.8" fill="#2f72ea"/><circle cx="268.88" cy="130.85" r="1.8" fill="#f0883a"/><circle cx="272.61" cy="131.59" r="1.8" fill="#2f72ea"/><circle cx="275.77" cy="133.71" r="1.8" fill="#f0883a"/><circle cx="277.89" cy="136.87" r="1.8" fill="#2f72ea"/><circle cx="278.63" cy="140.60" r="1.8" fill="#f0883a"/><circle cx="277.89" cy="144.33" r="1.8" fill="#2f72ea"/><circle cx="275.77" cy="147.49" r="1.8" fill="#f0883a"/><circle cx="272.61" cy="149.61" r="1.8" fill="#2f72ea"/><circle cx="268.88" cy="150.35" r="1.8" fill="#f0883a"/><circle cx="265.15" cy="149.61" r="1.8" fill="#2f72ea"/><circle cx="261.99" cy="147.49" r="1.8" fill="#f0883a"/><circle cx="259.87" cy="144.33" r="1.8" fill="#2f72ea"/><circle cx="259.13" cy="140.60" r="1.8" fill="#f0883a"/><circle cx="259.87" cy="136.87" r="1.8" fill="#2f72ea"/><circle cx="261.99" cy="133.71" r="1.8" fill="#f0883a"/><circle cx="265.15" cy="131.59" r="1.8" fill="#2f72ea"/><circle cx="290.80" cy="130.85" r="1.8" fill="#f0883a"/><circle cx="294.53" cy="131.59" r="1.8" fill="#2f72ea"/><circle cx="297.69" cy="133.71" r="1.8" fill="#f0883a"/><circle cx="299.81" cy="136.87" r="1.8" fill="#2f72ea"/><circle cx="300.55" cy="140.60" r="1.8" fill="#f0883a"/><circle cx="299.81" cy="144.33" r="1.8" fill="#2f72ea"/><circle cx="297.69" cy="147.49" r="1.8" fill="#f0883a"/><circle cx="294.53" cy="149.61" r="1.8" fill="#2f72ea"/><circle cx="290.80" cy="150.35" r="1.8" fill="#f0883a"/><circle cx="287.07" cy="149.61" r="1.8" fill="#2f72ea"/><circle cx="283.91" cy="147.49" r="1.8" fill="#f0883a"/><circle cx="281.79" cy="144.33" r="1.8" fill="#2f72ea"/><circle cx="281.05" cy="140.60" r="1.8" fill="#f0883a"/><circle cx="281.79" cy="136.87" r="1.8" fill="#2f72ea"/><circle cx="283.91" cy="133.71" r="1.8" fill="#f0883a"/><circle cx="287.07" cy="131.59" r="1.8" fill="#2f72ea"/>
<circle cx="71.60" cy="103.8" r="6.7" fill="#cdeef8" stroke="#000" stroke-width="1.35"/><circle cx="93.52" cy="103.8" r="6.7" fill="#cdeef8" stroke="#000" stroke-width="1.35"/><circle cx="115.44" cy="103.8" r="6.7" fill="#cdeef8" stroke="#000" stroke-width="1.35"/><circle cx="137.36" cy="103.8" r="6.7" fill="#cdeef8" stroke="#000" stroke-width="1.35"/><circle cx="159.28" cy="103.8" r="6.7" fill="#cdeef8" stroke="#000" stroke-width="1.35"/><circle cx="181.20" cy="103.8" r="6.7" fill="#cdeef8" stroke="#000" stroke-width="1.35"/><circle cx="203.12" cy="103.8" r="6.7" fill="#cdeef8" stroke="#000" stroke-width="1.35"/><circle cx="225.04" cy="103.8" r="6.7" fill="#cdeef8" stroke="#000" stroke-width="1.35"/><circle cx="246.96" cy="103.8" r="6.7" fill="#cdeef8" stroke="#000" stroke-width="1.35"/><circle cx="268.88" cy="103.8" r="6.7" fill="#cdeef8" stroke="#000" stroke-width="1.35"/><circle cx="290.80" cy="103.8" r="6.7" fill="#cdeef8" stroke="#000" stroke-width="1.35"/><circle cx="59.30" cy="122.3" r="6.7" fill="#cdeef8" stroke="#000" stroke-width="1.35"/><circle cx="81.22" cy="122.3" r="6.7" fill="#cdeef8" stroke="#000" stroke-width="1.35"/><circle cx="103.14" cy="122.3" r="6.7" fill="#cdeef8" stroke="#000" stroke-width="1.35"/><circle cx="125.06" cy="122.3" r="6.7" fill="#cdeef8" stroke="#000" stroke-width="1.35"/><circle cx="146.98" cy="122.3" r="6.7" fill="#cdeef8" stroke="#000" stroke-width="1.35"/><circle cx="168.90" cy="122.3" r="6.7" fill="#cdeef8" stroke="#000" stroke-width="1.35"/><circle cx="190.82" cy="122.3" r="6.7" fill="#cdeef8" stroke="#000" stroke-width="1.35"/><circle cx="212.74" cy="122.3" r="6.7" fill="#cdeef8" stroke="#000" stroke-width="1.35"/><circle cx="234.66" cy="122.3" r="6.7" fill="#cdeef8" stroke="#000" stroke-width="1.35"/><circle cx="256.58" cy="122.3" r="6.7" fill="#cdeef8" stroke="#000" stroke-width="1.35"/><circle cx="278.50" cy="122.3" r="6.7" fill="#cdeef8" stroke="#000" stroke-width="1.35"/><circle cx="300.42" cy="122.3" r="6.7" fill="#cdeef8" stroke="#000" stroke-width="1.35"/><circle cx="71.60" cy="140.6" r="6.7" fill="#cdeef8" stroke="#000" stroke-width="1.35"/><circle cx="93.52" cy="140.6" r="6.7" fill="#cdeef8" stroke="#000" stroke-width="1.35"/><circle cx="115.44" cy="140.6" r="6.7" fill="#cdeef8" stroke="#000" stroke-width="1.35"/><circle cx="137.36" cy="140.6" r="6.7" fill="#cdeef8" stroke="#000" stroke-width="1.35"/><circle cx="159.28" cy="140.6" r="6.7" fill="#cdeef8" stroke="#000" stroke-width="1.35"/><circle cx="181.20" cy="140.6" r="6.7" fill="#cdeef8" stroke="#000" stroke-width="1.35"/><circle cx="203.12" cy="140.6" r="6.7" fill="#cdeef8" stroke="#000" stroke-width="1.35"/><circle cx="225.04" cy="140.6" r="6.7" fill="#cdeef8" stroke="#000" stroke-width="1.35"/><circle cx="246.96" cy="140.6" r="6.7" fill="#cdeef8" stroke="#000" stroke-width="1.35"/><circle cx="268.88" cy="140.6" r="6.7" fill="#cdeef8" stroke="#000" stroke-width="1.35"/><circle cx="290.80" cy="140.6" r="6.7" fill="#cdeef8" stroke="#000" stroke-width="1.35"/>
<circle cx="159.4" cy="168.2" r="1.7" fill="#2f72ea"/>
<circle cx="162.8" cy="167.6" r="1.7" fill="#f0883a"/>
<circle cx="166.2" cy="166.6" r="1.7" fill="#2f72ea"/>
<circle cx="169.3" cy="165.5" r="1.7" fill="#f0883a"/>
<circle cx="172.5" cy="166.4" r="1.7" fill="#2f72ea"/>
<circle cx="175.8" cy="167.6" r="1.7" fill="#f0883a"/>
<circle cx="179.2" cy="168.3" r="1.7" fill="#2f72ea"/>
<circle cx="182.7" cy="168.0" r="1.7" fill="#f0883a"/>
<circle cx="186.2" cy="167.3" r="1.7" fill="#2f72ea"/>
<text x="198.80" y="172.10" font-size="14.2" fill="#ee8c88" text-anchor="start" font-weight="bold"><tspan font-style="italic">h</tspan>-BN</text>
<circle cx="173.5" cy="191.5" r="6.9" fill="#cdeef8" stroke="#000" stroke-width="2.2"/>
<text x="198.00" y="196.40" font-size="14.2" fill="#ee8c88" text-anchor="start" font-weight="bold">GGF</text>
<polygon points="350.4,106.7 355.1,113.9 337.9,126.3 339.4,130.1 327,127.8 329.2,115.4 332.6,119.2" fill="#eea3a3"/>
<polygon points="495.8,105.2 491.2,112.4 509.1,125.9 506.4,128.6 519.2,125.9 516.6,113.9 514.7,117.6" fill="#a5c9e7"/>
<text x="659.50" y="34.20" font-size="16.3" fill="#5b9bd5" text-anchor="middle" font-weight="bold">Whole-package encapsulation</text>
<text x="590.50" y="59.60" font-size="14.2" fill="#5b9bd5" text-anchor="start" font-weight="bold">Ex-situ <tspan font-style="italic">h</tspan>-BN film</text>
<line x1="587.2" y1="55.5" x2="579.75" y2="64.71" stroke="#5b9bd5" stroke-width="1.1"/>
<polygon points="576.6,68.6 577.72,63.08 581.77,66.35" fill="#5b9bd5"/>
<text x="592.10" y="138.30" font-size="14.2" fill="#5b9bd5" text-anchor="start" font-weight="bold">PI film</text>
<line x1="589.7" y1="133.1" x2="582.16" y2="142.33" stroke="#5b9bd5" stroke-width="1.1"/>
<polygon points="579,146.2 580.15,140.68 584.18,143.97" fill="#5b9bd5"/>
<circle cx="533.50" cy="120.40" r="1.75" fill="#f0883a"/><circle cx="536.23" cy="118.13" r="1.75" fill="#2f72ea"/><circle cx="538.63" cy="115.52" r="1.75" fill="#f0883a"/><circle cx="540.30" cy="112.41" r="1.75" fill="#2f72ea"/><circle cx="541.39" cy="109.04" r="1.75" fill="#f0883a"/><circle cx="541.60" cy="105.52" r="1.75" fill="#2f72ea"/><circle cx="541.60" cy="101.97" r="1.75" fill="#f0883a"/><circle cx="541.60" cy="98.42" r="1.75" fill="#2f72ea"/><circle cx="541.60" cy="94.87" r="1.75" fill="#f0883a"/><circle cx="543.13" cy="91.87" r="1.75" fill="#2f72ea"/><circle cx="545.96" cy="89.90" r="1.75" fill="#f0883a"/><circle cx="549.30" cy="88.71" r="1.75" fill="#2f72ea"/><circle cx="552.03" cy="86.80" r="1.75" fill="#f0883a"/><circle cx="553.10" cy="83.57" r="1.75" fill="#2f72ea"/><circle cx="553.75" cy="80.17" r="1.75" fill="#f0883a"/><circle cx="554.70" cy="76.82" r="1.75" fill="#2f72ea"/><circle cx="556.23" cy="73.91" r="1.75" fill="#f0883a"/><circle cx="559.25" cy="72.08" r="1.75" fill="#2f72ea"/><circle cx="562.69" cy="71.25" r="1.75" fill="#f0883a"/><circle cx="566.22" cy="71.48" r="1.75" fill="#2f72ea"/><circle cx="569.51" cy="72.76" r="1.75" fill="#f0883a"/><circle cx="572.27" cy="74.96" r="1.75" fill="#2f72ea"/><circle cx="574.84" cy="73.47" r="1.75" fill="#f0883a"/><circle cx="577.98" cy="71.83" r="1.75" fill="#2f72ea"/><circle cx="581.46" cy="71.21" r="1.75" fill="#f0883a"/><circle cx="584.96" cy="71.66" r="1.75" fill="#2f72ea"/><circle cx="588.18" cy="73.13" r="1.75" fill="#f0883a"/><circle cx="590.83" cy="75.39" r="1.75" fill="#2f72ea"/><circle cx="593.48" cy="73.05" r="1.75" fill="#f0883a"/><circle cx="596.72" cy="71.62" r="1.75" fill="#2f72ea"/><circle cx="600.23" cy="71.22" r="1.75" fill="#f0883a"/><circle cx="603.70" cy="71.88" r="1.75" fill="#2f72ea"/><circle cx="606.81" cy="73.55" r="1.75" fill="#f0883a"/><circle cx="609.37" cy="74.87" r="1.75" fill="#2f72ea"/><circle cx="612.15" cy="72.69" r="1.75" fill="#f0883a"/><circle cx="615.46" cy="71.45" r="1.75" fill="#2f72ea"/><circle cx="618.99" cy="71.26" r="1.75" fill="#f0883a"/><circle cx="622.42" cy="72.13" r="1.75" fill="#2f72ea"/><circle cx="625.42" cy="74.00" r="1.75" fill="#f0883a"/><circle cx="627.92" cy="74.35" r="1.75" fill="#2f72ea"/><circle cx="630.84" cy="72.36" r="1.75" fill="#f0883a"/><circle cx="634.22" cy="71.33" r="1.75" fill="#2f72ea"/><circle cx="637.76" cy="71.35" r="1.75" fill="#f0883a"/><circle cx="641.12" cy="72.44" r="1.75" fill="#2f72ea"/><circle cx="644.02" cy="74.47" r="1.75" fill="#f0883a"/><circle cx="646.52" cy="73.88" r="1.75" fill="#2f72ea"/><circle cx="649.55" cy="72.06" r="1.75" fill="#f0883a"/><circle cx="652.99" cy="71.24" r="1.75" fill="#2f72ea"/><circle cx="656.52" cy="71.49" r="1.75" fill="#f0883a"/><circle cx="659.81" cy="72.78" r="1.75" fill="#2f72ea"/><circle cx="662.56" cy="75.00" r="1.75" fill="#f0883a"/><circle cx="665.14" cy="73.44" r="1.75" fill="#2f72ea"/><circle cx="668.27" cy="71.81" r="1.75" fill="#f0883a"/><circle cx="671.76" cy="71.21" r="1.75" fill="#2f72ea"/><circle cx="675.26" cy="71.67" r="1.75" fill="#f0883a"/><circle cx="678.47" cy="73.16" r="1.75" fill="#2f72ea"/><circle cx="681.11" cy="75.36" r="1.75" fill="#f0883a"/><circle cx="683.77" cy="73.03" r="1.75" fill="#2f72ea"/><circle cx="687.01" cy="71.61" r="1.75" fill="#f0883a"/><circle cx="690.53" cy="71.22" r="1.75" fill="#2f72ea"/><circle cx="694.00" cy="71.90" r="1.75" fill="#f0883a"/><circle cx="697.11" cy="73.58" r="1.75" fill="#2f72ea"/><circle cx="699.65" cy="74.83" r="1.75" fill="#f0883a"/><circle cx="702.45" cy="72.67" r="1.75" fill="#2f72ea"/><circle cx="705.76" cy="71.44" r="1.75" fill="#f0883a"/><circle cx="709.30" cy="71.27" r="1.75" fill="#2f72ea"/><circle cx="712.72" cy="72.16" r="1.75" fill="#f0883a"/><circle cx="715.71" cy="74.03" r="1.75" fill="#2f72ea"/><circle cx="718.21" cy="74.32" r="1.75" fill="#f0883a"/><circle cx="721.14" cy="72.34" r="1.75" fill="#2f72ea"/><circle cx="724.52" cy="71.32" r="1.75" fill="#f0883a"/><circle cx="728.06" cy="71.36" r="1.75" fill="#2f72ea"/><circle cx="731.42" cy="72.46" r="1.75" fill="#f0883a"/><circle cx="734.30" cy="74.51" r="1.75" fill="#2f72ea"/><circle cx="736.80" cy="73.85" r="1.75" fill="#f0883a"/><circle cx="739.85" cy="72.05" r="1.75" fill="#2f72ea"/><circle cx="743.29" cy="71.24" r="1.75" fill="#f0883a"/><circle cx="746.82" cy="71.50" r="1.75" fill="#2f72ea"/><circle cx="750.10" cy="72.81" r="1.75" fill="#f0883a"/><circle cx="752.84" cy="75.04" r="1.75" fill="#2f72ea"/><circle cx="754.25" cy="78.26" r="1.75" fill="#f0883a"/><circle cx="755.30" cy="81.63" r="1.75" fill="#2f72ea"/><circle cx="755.59" cy="85.09" r="1.75" fill="#f0883a"/><circle cx="757.93" cy="87.63" r="1.75" fill="#2f72ea"/><circle cx="761.21" cy="88.97" r="1.75" fill="#f0883a"/><circle cx="764.12" cy="90.99" r="1.75" fill="#2f72ea"/><circle cx="766.60" cy="93.43" r="1.75" fill="#f0883a"/><circle cx="766.60" cy="96.98" r="1.75" fill="#2f72ea"/><circle cx="766.60" cy="100.53" r="1.75" fill="#f0883a"/><circle cx="766.60" cy="104.08" r="1.75" fill="#2f72ea"/><circle cx="766.60" cy="107.63" r="1.75" fill="#f0883a"/><circle cx="767.26" cy="111.11" r="1.75" fill="#2f72ea"/><circle cx="768.97" cy="114.22" r="1.75" fill="#f0883a"/><circle cx="771.17" cy="116.99" r="1.75" fill="#2f72ea"/><circle cx="773.93" cy="119.20" r="1.75" fill="#f0883a"/>
<circle cx="563.70" cy="82.9" r="6.95" fill="#cdeef8" stroke="#000" stroke-width="1.5"/><circle cx="581.75" cy="82.9" r="6.95" fill="#cdeef8" stroke="#000" stroke-width="1.5"/><circle cx="599.80" cy="82.9" r="6.95" fill="#cdeef8" stroke="#000" stroke-width="1.5"/><circle cx="617.85" cy="82.9" r="6.95" fill="#cdeef8" stroke="#000" stroke-width="1.5"/><circle cx="635.90" cy="82.9" r="6.95" fill="#cdeef8" stroke="#000" stroke-width="1.5"/><circle cx="653.95" cy="82.9" r="6.95" fill="#cdeef8" stroke="#000" stroke-width="1.5"/><circle cx="672.00" cy="82.9" r="6.95" fill="#cdeef8" stroke="#000" stroke-width="1.5"/><circle cx="690.05" cy="82.9" r="6.95" fill="#cdeef8" stroke="#000" stroke-width="1.5"/><circle cx="708.10" cy="82.9" r="6.95" fill="#cdeef8" stroke="#000" stroke-width="1.5"/><circle cx="726.15" cy="82.9" r="6.95" fill="#cdeef8" stroke="#000" stroke-width="1.5"/><circle cx="744.20" cy="82.9" r="6.95" fill="#cdeef8" stroke="#000" stroke-width="1.5"/><circle cx="554.20" cy="97.0" r="6.95" fill="#cdeef8" stroke="#000" stroke-width="1.5"/><circle cx="572.20" cy="97.0" r="6.95" fill="#cdeef8" stroke="#000" stroke-width="1.5"/><circle cx="590.20" cy="97.0" r="6.95" fill="#cdeef8" stroke="#000" stroke-width="1.5"/><circle cx="608.20" cy="97.0" r="6.95" fill="#cdeef8" stroke="#000" stroke-width="1.5"/><circle cx="626.20" cy="97.0" r="6.95" fill="#cdeef8" stroke="#000" stroke-width="1.5"/><circle cx="644.20" cy="97.0" r="6.95" fill="#cdeef8" stroke="#000" stroke-width="1.5"/><circle cx="662.20" cy="97.0" r="6.95" fill="#cdeef8" stroke="#000" stroke-width="1.5"/><circle cx="680.20" cy="97.0" r="6.95" fill="#cdeef8" stroke="#000" stroke-width="1.5"/><circle cx="698.20" cy="97.0" r="6.95" fill="#cdeef8" stroke="#000" stroke-width="1.5"/><circle cx="716.20" cy="97.0" r="6.95" fill="#cdeef8" stroke="#000" stroke-width="1.5"/><circle cx="734.20" cy="97.0" r="6.95" fill="#cdeef8" stroke="#000" stroke-width="1.5"/><circle cx="752.20" cy="97.0" r="6.95" fill="#cdeef8" stroke="#000" stroke-width="1.5"/><circle cx="560.70" cy="111.8" r="6.95" fill="#cdeef8" stroke="#000" stroke-width="1.5"/><circle cx="578.73" cy="111.8" r="6.95" fill="#cdeef8" stroke="#000" stroke-width="1.5"/><circle cx="596.76" cy="111.8" r="6.95" fill="#cdeef8" stroke="#000" stroke-width="1.5"/><circle cx="614.79" cy="111.8" r="6.95" fill="#cdeef8" stroke="#000" stroke-width="1.5"/><circle cx="632.82" cy="111.8" r="6.95" fill="#cdeef8" stroke="#000" stroke-width="1.5"/><circle cx="650.85" cy="111.8" r="6.95" fill="#cdeef8" stroke="#000" stroke-width="1.5"/><circle cx="668.88" cy="111.8" r="6.95" fill="#cdeef8" stroke="#000" stroke-width="1.5"/><circle cx="686.91" cy="111.8" r="6.95" fill="#cdeef8" stroke="#000" stroke-width="1.5"/><circle cx="704.94" cy="111.8" r="6.95" fill="#cdeef8" stroke="#000" stroke-width="1.5"/><circle cx="722.97" cy="111.8" r="6.95" fill="#cdeef8" stroke="#000" stroke-width="1.5"/><circle cx="741.00" cy="111.8" r="6.95" fill="#cdeef8" stroke="#000" stroke-width="1.5"/>
<circle cx="564.80" cy="160.6" r="6.95" fill="#cdeef8" stroke="#000" stroke-width="1.5"/><circle cx="582.80" cy="160.6" r="6.95" fill="#cdeef8" stroke="#000" stroke-width="1.5"/><circle cx="600.80" cy="160.6" r="6.95" fill="#cdeef8" stroke="#000" stroke-width="1.5"/><circle cx="618.80" cy="160.6" r="6.95" fill="#cdeef8" stroke="#000" stroke-width="1.5"/><circle cx="636.80" cy="160.6" r="6.95" fill="#cdeef8" stroke="#000" stroke-width="1.5"/><circle cx="654.80" cy="160.6" r="6.95" fill="#cdeef8" stroke="#000" stroke-width="1.5"/><circle cx="672.80" cy="160.6" r="6.95" fill="#cdeef8" stroke="#000" stroke-width="1.5"/><circle cx="690.80" cy="160.6" r="6.95" fill="#cdeef8" stroke="#000" stroke-width="1.5"/><circle cx="708.80" cy="160.6" r="6.95" fill="#cdeef8" stroke="#000" stroke-width="1.5"/><circle cx="726.80" cy="160.6" r="6.95" fill="#cdeef8" stroke="#000" stroke-width="1.5"/><circle cx="744.80" cy="160.6" r="6.95" fill="#cdeef8" stroke="#000" stroke-width="1.5"/><circle cx="555.30" cy="174.3" r="6.95" fill="#cdeef8" stroke="#000" stroke-width="1.5"/><circle cx="573.22" cy="174.3" r="6.95" fill="#cdeef8" stroke="#000" stroke-width="1.5"/><circle cx="591.14" cy="174.3" r="6.95" fill="#cdeef8" stroke="#000" stroke-width="1.5"/><circle cx="609.06" cy="174.3" r="6.95" fill="#cdeef8" stroke="#000" stroke-width="1.5"/><circle cx="626.98" cy="174.3" r="6.95" fill="#cdeef8" stroke="#000" stroke-width="1.5"/><circle cx="644.90" cy="174.3" r="6.95" fill="#cdeef8" stroke="#000" stroke-width="1.5"/><circle cx="662.82" cy="174.3" r="6.95" fill="#cdeef8" stroke="#000" stroke-width="1.5"/><circle cx="680.74" cy="174.3" r="6.95" fill="#cdeef8" stroke="#000" stroke-width="1.5"/><circle cx="698.66" cy="174.3" r="6.95" fill="#cdeef8" stroke="#000" stroke-width="1.5"/><circle cx="716.58" cy="174.3" r="6.95" fill="#cdeef8" stroke="#000" stroke-width="1.5"/><circle cx="734.50" cy="174.3" r="6.95" fill="#cdeef8" stroke="#000" stroke-width="1.5"/><circle cx="752.42" cy="174.3" r="6.95" fill="#cdeef8" stroke="#000" stroke-width="1.5"/><circle cx="561.90" cy="188.7" r="6.95" fill="#cdeef8" stroke="#000" stroke-width="1.5"/><circle cx="579.97" cy="188.7" r="6.95" fill="#cdeef8" stroke="#000" stroke-width="1.5"/><circle cx="598.04" cy="188.7" r="6.95" fill="#cdeef8" stroke="#000" stroke-width="1.5"/><circle cx="616.11" cy="188.7" r="6.95" fill="#cdeef8" stroke="#000" stroke-width="1.5"/><circle cx="634.18" cy="188.7" r="6.95" fill="#cdeef8" stroke="#000" stroke-width="1.5"/><circle cx="652.25" cy="188.7" r="6.95" fill="#cdeef8" stroke="#000" stroke-width="1.5"/><circle cx="670.32" cy="188.7" r="6.95" fill="#cdeef8" stroke="#000" stroke-width="1.5"/><circle cx="688.39" cy="188.7" r="6.95" fill="#cdeef8" stroke="#000" stroke-width="1.5"/><circle cx="706.46" cy="188.7" r="6.95" fill="#cdeef8" stroke="#000" stroke-width="1.5"/><circle cx="724.53" cy="188.7" r="6.95" fill="#cdeef8" stroke="#000" stroke-width="1.5"/><circle cx="742.60" cy="188.7" r="6.95" fill="#cdeef8" stroke="#000" stroke-width="1.5"/>
<polyline points="536.5,200.1 553.4,148.6 755.7,147.5 772,199.3" fill="none" stroke="#f5a23a" stroke-width="2.6" stroke-linejoin="miter"/>
<defs>
<pattern id="weave" width="17.6" height="18.3" patternUnits="userSpaceOnUse" patternTransform="translate(436.3,68.2) skewY(-6) skewX(-8)">
<rect width="17.6" height="18.3" fill="#b4b4b4"/>
<g fill="none" stroke-linecap="round">
<path d="M9.10,1.30C11.30,0.30 14.80,0.30 17.30,1.60M9.10,3.40C11.30,2.40 14.80,2.40 17.30,3.70M9.10,5.50C11.30,4.50 14.80,4.50 17.30,5.80M9.10,7.60C11.30,6.60 14.80,6.60 17.30,7.90M9.10,9.70C11.30,8.70 14.80,8.70 17.30,10.00M0.30,10.45C2.50,9.45 6.00,9.45 8.50,10.75M0.30,12.55C2.50,11.55 6.00,11.55 8.50,12.85M0.30,14.65C2.50,13.65 6.00,13.65 8.50,14.95M0.30,16.75C2.50,15.75 6.00,15.75 8.50,17.05M0.30,18.85C2.50,17.85 6.00,17.85 8.50,19.15" stroke="#7c7c7c" stroke-width="0.7"/>
<path d="M9.10,2.30C11.30,1.30 14.80,1.30 17.30,2.60M9.10,4.40C11.30,3.40 14.80,3.40 17.30,4.70M9.10,6.50C11.30,5.50 14.80,5.50 17.30,6.80M9.10,8.60C11.30,7.60 14.80,7.60 17.30,8.90M0.30,11.45C2.50,10.45 6.00,10.45 8.50,11.75M0.30,13.55C2.50,12.55 6.00,12.55 8.50,13.85M0.30,15.65C2.50,14.65 6.00,14.65 8.50,15.95M0.30,17.75C2.50,16.75 6.00,16.75 8.50,18.05" stroke="#dcdcdc" stroke-width="0.6"/>
<path d="M0.90,8.40L2.50,0.80M2.75,8.40L4.35,0.80M4.60,8.40L6.20,0.80M6.45,8.40L8.05,0.80M9.70,17.55L11.30,9.95M11.55,17.55L13.15,9.95M13.40,17.55L15.00,9.95M15.25,17.55L16.85,9.95" stroke="#545454" stroke-width="0.95"/>
<path d="M1.80,8.50L3.40,0.90M3.65,8.50L5.25,0.90M5.50,8.50L7.10,0.90M10.60,17.65L12.20,10.05M12.45,17.65L14.05,10.05M14.30,17.65L15.90,10.05" stroke="#e0e0e0" stroke-width="0.6"/>
</g>
</pattern>
<linearGradient id="fabshade" x1="0" y1="0" x2="1" y2="1">
<stop offset="0" stop-color="#fff" stop-opacity="0.1"/>
<stop offset="0.6" stop-color="#000" stop-opacity="0"/>
<stop offset="1" stop-color="#000" stop-opacity="0.18"/>
</linearGradient>
</defs>
<path d="M323.2,94.1 C328,89 334,84 340,79 C352,69 365,60 372,55.8 C380,50 386,46 390.5,43.8 C396,41.5 400,41.2 403,41.3 C415,41 425,45 434.6,48.1 C442,50.5 448,53 455.3,54.4 C462,55.8 470,56.2 476.1,55.8 C484,55 495,53.3 502.4,53 L496.9,76.5 L490,93.1 L483,112.5 L480.3,119.4 C470,123 465,125 458.1,124.9 C450,124.5 445,123 441.5,122.2 C430,119.5 426,118 420.8,116.6 C410,114 400,111 390,107 C383,105 380,105 377.9,104.2 C372,101.5 370,100.5 365.3,99.2 C360,97.5 357,96.5 352.7,95.4 C348,94.2 345,93.6 340.2,93.5 C333,93.5 328,93.8 323.2,94.1 Z" fill="url(#weave)"/>
<path d="M323.2,94.1 C328,89 334,84 340,79 C352,69 365,60 372,55.8 C380,50 386,46 390.5,43.8 C396,41.5 400,41.2 403,41.3 C415,41 425,45 434.6,48.1 C442,50.5 448,53 455.3,54.4 C462,55.8 470,56.2 476.1,55.8 C484,55 495,53.3 502.4,53 L496.9,76.5 L490,93.1 L483,112.5 L480.3,119.4 C470,123 465,125 458.1,124.9 C450,124.5 445,123 441.5,122.2 C430,119.5 426,118 420.8,116.6 C410,114 400,111 390,107 C383,105 380,105 377.9,104.2 C372,101.5 370,100.5 365.3,99.2 C360,97.5 357,96.5 352.7,95.4 C348,94.2 345,93.6 340.2,93.5 C333,93.5 328,93.8 323.2,94.1 Z" fill="url(#fabshade)" stroke="#8a8a8a" stroke-width="0.8"/>
<text x="422.20" y="86.90" font-size="13.6" fill="#000" text-anchor="middle" font-weight="bold">GGFF</text>
<rect x="33" y="219" width="469" height="172" fill="#e8eff8"/>
<defs>
<linearGradient id="strip1" x1="0" y1="0" x2="1" y2="0">
<stop offset="0" stop-color="#b8b8b8"/><stop offset="0.12" stop-color="#d8d8d8"/><stop offset="0.35" stop-color="#a2a2a2"/><stop offset="0.65" stop-color="#6c6c6c"/><stop offset="0.9" stop-color="#7e7e7e"/><stop offset="1" stop-color="#9a9a9a"/>
</linearGradient>
<linearGradient id="strip1v" x1="0" y1="0" x2="0" y2="1">
<stop offset="0" stop-color="#fff" stop-opacity="0.3"/><stop offset="0.5" stop-color="#fff" stop-opacity="0"/><stop offset="1" stop-color="#000" stop-opacity="0.25"/>
</linearGradient>
<linearGradient id="glove" x1="0" y1="0" x2="1" y2="1">
<stop offset="0" stop-color="#3aa2f8"/><stop offset="0.6" stop-color="#2288ee"/><stop offset="1" stop-color="#1470dc"/>
</linearGradient>
</defs>
<path d="M92.8,255 C98,253 108,253 113.5,256 L114.6,365 C108,367 98,367 93,365 C92.5,330 92.3,290 92.8,255 Z" fill="url(#strip1)"/>
<path d="M92.8,255 C98,253 108,253 113.5,256 L114.6,365 C108,367 98,367 93,365 C92.5,330 92.3,290 92.8,255 Z" fill="url(#strip1v)"/>
<path d="M80.1,219 L129,219 C128.5,228 127.5,232 126.4,237 C124,246 122.5,252 121,256.4 C119,263 117.5,269 115.8,270 C114,269.5 113.5,268 113.1,267.8 C112,260 111.5,255 111,252 C110,256 109.5,258 108.7,258.1 C107,259 106,260.5 105.2,260.3 C103,259.5 101,257.5 99,257.3 C97,257 95,257 93.8,257.3 C93.5,262 93,267 92.5,267.8 C91.5,266 90.8,265 90.7,264.3 C90.8,258 91.2,252 91.1,250.2 C90,246 88,241 85,234.4 C83,230 81,226 80.6,224.7 Z" fill="url(#glove)"/>
<path d="M84,228 C90,236 96,242 104,247 M96,219 C102,230 106,238 110,252 M90,247 C96,252 102,255 108,256" stroke="#0a4cb4" stroke-width="1.1" fill="none" opacity="0.7"/>
<path d="M102.5,219.4 L112,219.4 C111,230 110,242 108.7,250 C107,244 105,232 102.5,219.4 Z" fill="#0b3c9c" opacity="0.75"/>
<path d="M92,391 L133.8,391 C132,384 131,381 129.9,379.3 C127,372 124,367 122.8,365.2 C120,362 118.5,360.5 117.5,360 C116,362 114,365 113.1,367 C113,362 112.8,360 112.3,358.2 C110.5,354 109,352 107.9,351.1 C106,349.5 104,349 102.6,348.9 C100,349 98.5,349.5 97.3,350.3 C95,353 94,356 92.9,359 C92.5,354 92,352 91.1,350.3 C89.5,348.5 88,347.7 86.7,347.6 C85,347.7 84,348.5 83.2,349.4 C82.3,352 82.2,354 82.3,356.4 C83,362 84.5,366 85.8,369.6 C88,374 90,377 92,379.3 Z" fill="url(#glove)"/>
<path d="M94,365 C100,362 106,364 112,370 M95,376 C102,373 110,378 116,386 M118,372 C122,378 126,384 128,390" stroke="#0a4cb4" stroke-width="1.0" fill="none" opacity="0.6"/>
<defs><linearGradient id="foldg" x1="0" y1="0" x2="1" y2="0"><stop offset="0" stop-color="#9a9a9a"/><stop offset="0.35" stop-color="#d4d4d4"/><stop offset="0.8" stop-color="#b0b0b0"/><stop offset="1" stop-color="#888"/></linearGradient></defs><path d="M203.4,289.1 C199,293 195,297 192.3,300.9 L192.3,333 L204.1,358 L206.9,328.8 C206,310 205,298 203.4,289.1 Z" fill="url(#foldg)"/>
<path d="M203.4,289.1 C204,305 205.5,325 204.1,358 L206.9,328.8 C206,310 205,298 203.4,289.1 Z" fill="#4a4a4a"/>
<path d="M192.3,300.9 C196,298 200,293 203.4,289.1 C202,300 202,320 202.5,345 L192.3,333 Z" fill="#d8d8d8" opacity="0.7"/>
<path d="M177,391.5 C183,375 188,362 190.9,352.5 C191.5,345 191.8,340 192.3,335.7 C193.5,334 195,333.5 196.5,333.7 C198.5,334 200,335 200.7,335.7 C201.5,340 202,346 202.8,352.5 C203.5,345 205,335 206.9,330.2 C209,333 210.5,336 211.8,340 C213,348 214,356 214.6,363.6 C216,358 217,355 218.1,352.5 C219,349 219.5,347 220.2,345.5 C221.5,344.5 223,344.3 224.4,344.8 C226.5,346.5 227.5,349 228.5,352.5 C231,362 233.5,370 235.5,377.6 C237,383 238,387 239,391.5 Z" fill="url(#glove)"/>
<path d="M190,360 C186,372 184,382 183,391 M203,353 C205,365 210,378 214,391 M215,365 C220,375 224,383 228,391" stroke="#0a4cb4" stroke-width="1.0" fill="none" opacity="0.5"/>
<path d="M308.4,258 L314.9,258 C316,275 319.5,290 319.3,298 C318,315 314,335 312,350 L307.5,350 C308.5,330 309,310 308.5,290 C308.3,280 308.3,268 308.4,258 Z" fill="#8c8c8c"/>
<path d="M310,262 C313,280 318,292 319.3,298 C316,296 312,290 310,285 Z" fill="#d0d0d0"/>
<path d="M308.5,300 C312,315 313,330 312,350 L307.5,350 C308.5,330 309,315 308.5,300 Z" fill="#555"/>
<path d="M287.6,219.4 L329,219.4 C329,235 328.5,248 328,258.6 C327,266 326,271 324.7,272.8 C322,273 320.5,272.5 319.3,271.7 C317.5,266 316.5,260 314.9,257.5 C313,257.5 311.5,258 310.5,258.6 C309,263 307.5,267 306.2,268.4 C304,268 302.5,267.5 301.8,266.3 C301.5,262 301.8,260 301.8,258.6 C299,255 297,251 295.3,247.7 C294,240 293.5,236 293,232.4 C291,227 289,223 287.6,219.4 Z" fill="url(#glove)"/>
<path d="M292,226 C298,236 304,242 312,246 M304,219 C309,230 313,240 318,254" stroke="#0a4cb4" stroke-width="1.0" fill="none" opacity="0.6"/>
<path d="M310,219.4 L318,219.4 C317.5,232 316.5,245 315.5,256 C313.5,246 312,232 310,219.4 Z" fill="#0b3c9c" opacity="0.6"/>
<path d="M288.7,389.5 L333.4,389.5 C332.5,382 331.5,377 330.2,372 C328,366 325,362 323.6,359 C322,352 320.5,345 319.3,341.5 C317.5,339 316,338 314.9,338.2 C312,342 309,347 306.2,351.3 C304,350.5 301.5,349 299.6,349.1 C297,349.5 296,351 295.3,352.4 C295,360 295.2,370 295.3,376.4 C293,377.5 290.5,378.5 288.7,380.8 Z" fill="url(#glove)"/>
<path d="M300,362 C306,360 312,366 316,374 M318,350 C320,362 324,374 328,389" stroke="#0a4cb4" stroke-width="1.0" fill="none" opacity="0.5"/>
<path d="M437.3,297 C439,295 441,294.4 442.7,294.6 C446,295.5 448,296.5 449.3,298.3 C451.5,302 452.3,305 452,307.7 C452,315 451.8,320 451.3,325 C450.5,332 450,337 449.3,341 L438.7,347.7 C437.8,340 437.5,332 437.3,325 C436.5,316 436,310 436,305 C436.3,301 436.7,299 437.3,297 Z" fill="#a8a8a8"/>
<path d="M444,302.3 C445.5,306 446.2,309 446,311.7 C446,318 445,323 444,327.7 C443,320 443,312 444,302.3 Z" fill="#e8eff8"/>
<path d="M437.3,297 C436.5,310 437.5,330 438.7,347.7 L442,345 C441,330 440,312 440,298 Z" fill="#d8d8d8" opacity="0.8"/>
<path d="M449.3,298.3 C451.5,302 452.3,305 452,307.7 C452,320 451,332 449.3,341 L447,340 C448,325 448.5,310 447,300 Z" fill="#555" opacity="0.7"/>
<path d="M404.7,388.3 C406.5,382 408.5,377 410.7,373 C413,369 416,366.5 418.7,365 C421,363.5 424,362.8 426,362.3 C425.8,358 425.8,355 426,351.7 C427.5,348.5 429,346 430.7,344.3 C433.5,343.5 436.5,343.4 438.7,343.7 C440.5,345 441.5,346.5 442.7,347.7 C444,346.5 445.5,345.5 446.7,344.3 C449,340.5 451,336 453.3,333 C455,336 456.5,339 457.3,342.3 C458,347 458.5,352 458.7,357 C461,364 464,371 466.7,378.3 C468,382 469,385.5 469.3,388.3 Z" fill="url(#glove)"/>
<path d="M412,378 C418,372 424,370 430,372 M426,362 C432,360 436,364 440,372 M442,352 C446,362 452,372 458,388" stroke="#0a4cb4" stroke-width="1.0" fill="none" opacity="0.5"/>
<text x="75.00" y="292.00" font-size="14.6" fill="#000" text-anchor="start" transform="rotate(90 75.0 292)">Pristine</text>
<text x="175.00" y="291.80" font-size="14.6" fill="#000" text-anchor="start" transform="rotate(90 175.0 291.8)">Folding</text>
<text x="283.30" y="289.50" font-size="14.6" fill="#000" text-anchor="start" transform="rotate(90 283.3 289.5)">Twisting</text>
<text x="406.20" y="235.00" font-size="14.6" fill="#000" text-anchor="start" transform="rotate(90 406.2 235.0)">Folding &amp; Twisting</text>
<text x="56.00" y="383.80" font-size="10" fill="#000" text-anchor="middle" font-weight="bold">3 cm</text>
<rect x="41.8" y="385.6" width="29.2" height="2" fill="#000"/>
<rect x="603.25" y="382.31" width="19.5" height="4.79" fill="#b4d6f2" stroke="#151515" stroke-width="1.1"/>
<line x1="613.00" y1="379.63" x2="613.00" y2="382.31" stroke="#111" stroke-width="1.1"/>
<line x1="609.20" y1="379.63" x2="616.80" y2="379.63" stroke="#111" stroke-width="1.1"/>
<rect x="650.35" y="382.69" width="19.5" height="4.41" fill="#eaf6fb" stroke="#151515" stroke-width="1.1"/>
<line x1="660.10" y1="380.20" x2="660.10" y2="382.69" stroke="#111" stroke-width="1.1"/>
<line x1="656.30" y1="380.20" x2="663.90" y2="380.20" stroke="#111" stroke-width="1.1"/>
<rect x="698.45" y="294.55" width="19.5" height="92.55" fill="#fde5a8" stroke="#151515" stroke-width="1.1"/>
<line x1="708.20" y1="292.44" x2="708.20" y2="294.55" stroke="#111" stroke-width="1.1"/>
<line x1="704.40" y1="292.44" x2="712.00" y2="292.44" stroke="#111" stroke-width="1.1"/>
<rect x="746.05" y="293.20" width="19.5" height="93.90" fill="#f2b0af" stroke="#151515" stroke-width="1.1"/>
<line x1="755.80" y1="289.56" x2="755.80" y2="293.20" stroke="#111" stroke-width="1.1"/>
<line x1="752.00" y1="289.56" x2="759.60" y2="289.56" stroke="#111" stroke-width="1.1"/>
<rect x="589.4" y="233.8" width="190.0" height="153.3" fill="none" stroke="#111" stroke-width="1.2"/>
<line x1="586.20" y1="367.94" x2="589.40" y2="367.94" stroke="#111" stroke-width="1.1"/>
<text x="584.50" y="371.84" font-size="13.5" fill="#111" text-anchor="end">60</text>
<line x1="586.20" y1="329.61" x2="589.40" y2="329.61" stroke="#111" stroke-width="1.1"/>
<text x="584.50" y="333.51" font-size="13.5" fill="#111" text-anchor="end">80</text>
<line x1="586.20" y1="291.29" x2="589.40" y2="291.29" stroke="#111" stroke-width="1.1"/>
<text x="584.50" y="295.19" font-size="13.5" fill="#111" text-anchor="end">100</text>
<line x1="586.20" y1="252.96" x2="589.40" y2="252.96" stroke="#111" stroke-width="1.1"/>
<text x="584.50" y="256.86" font-size="13.5" fill="#111" text-anchor="end">120</text>
<text x="553.50" y="309.50" font-size="14.7" fill="#111" text-anchor="middle" transform="rotate(-90 553.5 309.5)">Bending length (mm)</text>
<rect x="594" y="245.4" width="20.8" height="9.1" fill="#8ab6df" stroke="#1e2a50" stroke-width="1.1"/>
<text x="621.10" y="253.60" font-size="10.0" fill="#111" text-anchor="start">GGFF</text>
<rect x="594" y="258.5" width="20.8" height="9.1" fill="#dbeff9" stroke="#1e2a50" stroke-width="1.1"/>
<text x="621.10" y="266.70" font-size="10.0" fill="#111" text-anchor="start"><tspan font-style="italic">h</tspan>-BN/GGFF</text>
<rect x="678.3" y="245.4" width="20.8" height="9.1" fill="#fde39d" stroke="#1e2a50" stroke-width="1.1"/>
<text x="705.50" y="253.60" font-size="10.0" fill="#111" text-anchor="start">PI/GGFF</text>
<rect x="678.3" y="258.5" width="20.8" height="9.1" fill="#ee8f8d" stroke="#1e2a50" stroke-width="1.1"/>
<text x="705.50" y="266.70" font-size="10.0" fill="#111" text-anchor="start">PI/<tspan font-style="italic">h</tspan>-BN/GGFF</text>
<rect x="68.5" y="426.6" width="190.3" height="153.39999999999998" fill="none" stroke="#111" stroke-width="1.2"/>
<line x1="81.30" y1="580.00" x2="81.30" y2="583.50" stroke="#111" stroke-width="1.1"/>
<text x="81.30" y="595.20" font-size="13.5" fill="#111" text-anchor="middle">0</text>
<line x1="132.00" y1="580.00" x2="132.00" y2="583.50" stroke="#111" stroke-width="1.1"/>
<text x="132.00" y="595.20" font-size="13.5" fill="#111" text-anchor="middle">10</text>
<line x1="182.70" y1="580.00" x2="182.70" y2="583.50" stroke="#111" stroke-width="1.1"/>
<text x="182.70" y="595.20" font-size="13.5" fill="#111" text-anchor="middle">20</text>
<line x1="233.40" y1="580.00" x2="233.40" y2="583.50" stroke="#111" stroke-width="1.1"/>
<text x="233.40" y="595.20" font-size="13.5" fill="#111" text-anchor="middle">30</text>
<line x1="106.65" y1="580.00" x2="106.65" y2="582.00" stroke="#111" stroke-width="1.0"/>
<line x1="157.35" y1="580.00" x2="157.35" y2="582.00" stroke="#111" stroke-width="1.0"/>
<line x1="208.05" y1="580.00" x2="208.05" y2="582.00" stroke="#111" stroke-width="1.0"/>
<line x1="258.75" y1="580.00" x2="258.75" y2="582.00" stroke="#111" stroke-width="1.0"/>
<line x1="66.50" y1="572.86" x2="68.50" y2="572.86" stroke="#111" stroke-width="0.9"/>
<line x1="66.50" y1="563.25" x2="68.50" y2="563.25" stroke="#111" stroke-width="0.9"/>
<line x1="66.50" y1="556.43" x2="68.50" y2="556.43" stroke="#111" stroke-width="0.9"/>
<line x1="66.50" y1="551.14" x2="68.50" y2="551.14" stroke="#111" stroke-width="0.9"/>
<line x1="66.50" y1="546.81" x2="68.50" y2="546.81" stroke="#111" stroke-width="0.9"/>
<line x1="66.50" y1="543.16" x2="68.50" y2="543.16" stroke="#111" stroke-width="0.9"/>
<line x1="66.50" y1="539.99" x2="68.50" y2="539.99" stroke="#111" stroke-width="0.9"/>
<line x1="66.50" y1="537.20" x2="68.50" y2="537.20" stroke="#111" stroke-width="0.9"/>
<line x1="65.00" y1="534.70" x2="68.50" y2="534.70" stroke="#111" stroke-width="1.1"/>
<line x1="66.50" y1="518.26" x2="68.50" y2="518.26" stroke="#111" stroke-width="0.9"/>
<line x1="66.50" y1="508.65" x2="68.50" y2="508.65" stroke="#111" stroke-width="0.9"/>
<line x1="66.50" y1="501.83" x2="68.50" y2="501.83" stroke="#111" stroke-width="0.9"/>
<line x1="66.50" y1="496.54" x2="68.50" y2="496.54" stroke="#111" stroke-width="0.9"/>
<line x1="66.50" y1="492.21" x2="68.50" y2="492.21" stroke="#111" stroke-width="0.9"/>
<line x1="66.50" y1="488.56" x2="68.50" y2="488.56" stroke="#111" stroke-width="0.9"/>
<line x1="66.50" y1="485.39" x2="68.50" y2="485.39" stroke="#111" stroke-width="0.9"/>
<line x1="66.50" y1="482.60" x2="68.50" y2="482.60" stroke="#111" stroke-width="0.9"/>
<line x1="65.00" y1="480.10" x2="68.50" y2="480.10" stroke="#111" stroke-width="1.1"/>
<line x1="66.50" y1="463.66" x2="68.50" y2="463.66" stroke="#111" stroke-width="0.9"/>
<line x1="66.50" y1="454.05" x2="68.50" y2="454.05" stroke="#111" stroke-width="0.9"/>
<line x1="66.50" y1="447.23" x2="68.50" y2="447.23" stroke="#111" stroke-width="0.9"/>
<line x1="66.50" y1="441.94" x2="68.50" y2="441.94" stroke="#111" stroke-width="0.9"/>
<line x1="66.50" y1="437.61" x2="68.50" y2="437.61" stroke="#111" stroke-width="0.9"/>
<line x1="66.50" y1="433.96" x2="68.50" y2="433.96" stroke="#111" stroke-width="0.9"/>
<line x1="66.50" y1="430.79" x2="68.50" y2="430.79" stroke="#111" stroke-width="0.9"/>
<line x1="66.50" y1="428.00" x2="68.50" y2="428.00" stroke="#111" stroke-width="0.9"/>
<text x="44.60" y="485.40" font-size="13.5" fill="#111" text-anchor="start">10<tspan font-size="8.8" dx="-0.3" dy="-5.2">3</tspan></text>
<text x="44.60" y="540.00" font-size="13.5" fill="#111" text-anchor="start">10<tspan font-size="8.8" dx="-0.3" dy="-5.2">2</tspan></text>
<text x="162.80" y="608.30" font-size="14.5" fill="#111" text-anchor="middle">Graphene thickness (nm)</text>
<text x="43.20" y="505.50" font-size="14.5" fill="#111" text-anchor="middle" transform="rotate(-90 43.2 505.5)">Sheet resistance (Ω sq<tspan font-size="9" dy="-5">-1</tspan><tspan dy="5">)</tspan></text>
<defs>
<radialGradient id="ballb" cx="0.35" cy="0.35" r="0.7"><stop offset="0" stop-color="#a8c4f0"/><stop offset="0.35" stop-color="#4a78c8"/><stop offset="1" stop-color="#2d55a0"/></radialGradient>
<radialGradient id="ballB" cx="0.35" cy="0.35" r="0.7"><stop offset="0" stop-color="#b8dcff"/><stop offset="0.35" stop-color="#3a92ea"/><stop offset="1" stop-color="#1f6cc8"/></radialGradient>
<radialGradient id="ballR" cx="0.35" cy="0.35" r="0.7"><stop offset="0" stop-color="#ffc0c8"/><stop offset="0.35" stop-color="#e83a55"/><stop offset="1" stop-color="#c01a35"/></radialGradient>
</defs>
<polyline points="86.37,444.00 91.44,463.40 99.05,485.40 106.65,496.50 116.79,525.20 132.00,534.70 162.42,540.00 243.54,556.50" fill="none" stroke="#3c6dbf" stroke-width="1.7"/>
<circle cx="86.37" cy="444.00" r="3.4" fill="url(#ballb)"/>
<circle cx="91.44" cy="463.40" r="3.4" fill="url(#ballb)"/>
<circle cx="99.05" cy="485.40" r="3.4" fill="url(#ballb)"/>
<circle cx="106.65" cy="496.50" r="3.4" fill="url(#ballb)"/>
<circle cx="116.79" cy="525.20" r="3.4" fill="url(#ballb)"/>
<circle cx="132.00" cy="534.70" r="3.4" fill="url(#ballb)"/>
<circle cx="162.42" cy="540.00" r="3.4" fill="url(#ballb)"/>
<circle cx="243.54" cy="556.50" r="3.4" fill="url(#ballb)"/>
<defs>
<linearGradient id="cbar" x1="0" y1="0" x2="0" y2="1">
<stop offset="0" stop-color="#ec8c8c"/><stop offset="0.5" stop-color="#ffffff"/><stop offset="1" stop-color="#88b8e2"/>
</linearGradient></defs>
<rect x="284.80" y="420.9" width="173.4" height="167.2" fill="#a4c7e5" stroke="#2a2a2a" stroke-width="1.5"/>
<text x="373.50" y="508.70" font-size="14.3" fill="#111" text-anchor="middle">GGFF</text>
<text x="316.80" y="575.40" font-size="12.3" fill="#111" text-anchor="middle" font-weight="bold">1 cm</text>
<rect x="301.10" y="578.5" width="34.4" height="1.6" fill="#111"/>
<rect x="475.00" y="443.2" width="16.5" height="120.5" fill="url(#cbar)" stroke="#111" stroke-width="1.5"/>
<text x="460.00" y="435.00" font-size="14.3" fill="#111" text-anchor="start">1.2×10<tspan font-size="10.2" dy="-5.2">4</tspan></text>
<text x="481.80" y="583.50" font-size="13.5" fill="#111" text-anchor="middle">0</text>
<text x="511.30" y="501.80" font-size="14.7" fill="#111" text-anchor="middle" transform="rotate(90 511.3 501.8)">Sheet resistance</text>
<text x="498.60" y="501.80" font-size="14.9" fill="#111" text-anchor="middle" transform="rotate(90 498.6 501.8)">(Ω sq<tspan font-size="9.5" dy="-5">-1</tspan><tspan dy="5">)</tspan></text>
<rect x="543.20" y="420.9" width="173.4" height="167.2" fill="#ec928e" stroke="#2a2a2a" stroke-width="1.5"/>
<text x="633.90" y="508.70" font-size="14.3" fill="#111" text-anchor="middle"><tspan font-style="italic">h</tspan>-BN/GGFF</text>
<text x="575.20" y="575.40" font-size="12.3" fill="#111" text-anchor="middle" font-weight="bold">1 cm</text>
<rect x="559.50" y="578.5" width="34.4" height="1.6" fill="#111"/>
<rect x="733.40" y="443.2" width="16.5" height="120.5" fill="url(#cbar)" stroke="#111" stroke-width="1.5"/>
<text x="718.40" y="435.00" font-size="14.3" fill="#111" text-anchor="start">1.2×10<tspan font-size="10.2" dy="-5.2">4</tspan></text>
<text x="740.20" y="583.50" font-size="13.5" fill="#111" text-anchor="middle">0</text>
<text x="769.70" y="501.80" font-size="14.7" fill="#111" text-anchor="middle" transform="rotate(90 769.7 501.8)">Sheet resistance</text>
<text x="757.00" y="501.80" font-size="14.9" fill="#111" text-anchor="middle" transform="rotate(90 757.0 501.8)">(Ω sq<tspan font-size="9.5" dy="-5">-1</tspan><tspan dy="5">)</tspan></text>
<rect x="326.3" y="633.0" width="189.8" height="153.29999999999995" fill="none" stroke="#111" stroke-width="1.2"/>
<line x1="326.40" y1="786.30" x2="326.40" y2="789.80" stroke="#111" stroke-width="1.1"/>
<text x="326.40" y="801.80" font-size="13.5" fill="#111" text-anchor="middle">0</text>
<line x1="379.20" y1="786.30" x2="379.20" y2="789.80" stroke="#111" stroke-width="1.1"/>
<text x="379.20" y="801.80" font-size="13.5" fill="#111" text-anchor="middle">15</text>
<line x1="432.00" y1="786.30" x2="432.00" y2="789.80" stroke="#111" stroke-width="1.1"/>
<text x="432.00" y="801.80" font-size="13.5" fill="#111" text-anchor="middle">30</text>
<line x1="484.80" y1="786.30" x2="484.80" y2="789.80" stroke="#111" stroke-width="1.1"/>
<text x="484.80" y="801.80" font-size="13.5" fill="#111" text-anchor="middle">45</text>
<line x1="352.80" y1="786.30" x2="352.80" y2="788.30" stroke="#111" stroke-width="1.0"/>
<line x1="405.60" y1="786.30" x2="405.60" y2="788.30" stroke="#111" stroke-width="1.0"/>
<line x1="458.40" y1="786.30" x2="458.40" y2="788.30" stroke="#111" stroke-width="1.0"/>
<line x1="511.20" y1="786.30" x2="511.20" y2="788.30" stroke="#111" stroke-width="1.0"/>
<line x1="322.80" y1="776.40" x2="326.30" y2="776.40" stroke="#111" stroke-width="1.1"/>
<text x="321.40" y="780.00" font-size="13.5" fill="#111" text-anchor="end">0.0</text>
<line x1="322.80" y1="735.50" x2="326.30" y2="735.50" stroke="#111" stroke-width="1.1"/>
<text x="321.40" y="739.10" font-size="13.5" fill="#111" text-anchor="end">0.2</text>
<line x1="322.80" y1="694.60" x2="326.30" y2="694.60" stroke="#111" stroke-width="1.1"/>
<text x="321.40" y="698.20" font-size="13.5" fill="#111" text-anchor="end">0.4</text>
<line x1="322.80" y1="653.70" x2="326.30" y2="653.70" stroke="#111" stroke-width="1.1"/>
<text x="321.40" y="657.30" font-size="13.5" fill="#111" text-anchor="end">0.6</text>
<line x1="324.30" y1="755.95" x2="326.30" y2="755.95" stroke="#111" stroke-width="1.0"/>
<line x1="324.30" y1="715.05" x2="326.30" y2="715.05" stroke="#111" stroke-width="1.0"/>
<line x1="324.30" y1="674.15" x2="326.30" y2="674.15" stroke="#111" stroke-width="1.0"/>
<text x="419.80" y="815.00" font-size="14.3" fill="#111" text-anchor="middle">Time (s)</text>
<text x="294.40" y="711.50" font-size="14.7" fill="#111" text-anchor="middle" transform="rotate(-90 294.4 711.5)">Current (μA)</text>
<polyline points="326.40,668.79 328.16,668.68 329.92,668.67 331.68,668.76 333.44,668.87 335.20,668.96 336.96,668.97 338.72,668.90 340.48,668.78 342.24,668.66 344.00,668.61 345.76,668.67 347.52,668.83 349.28,669.06 351.04,669.30 352.80,669.47 354.56,669.55 356.32,669.53 358.08,669.46 359.84,669.39 361.60,669.39 363.36,669.47 365.12,669.62 366.88,669.80 368.64,669.94 370.40,669.99 372.16,669.92 373.92,669.76 375.68,669.55 377.44,669.37 379.20,669.26 380.96,669.24 382.72,669.29 384.48,669.35 386.24,669.38 388.00,669.31 389.76,669.15 391.52,668.94 393.28,668.72 395.04,668.57 396.80,668.53 398.56,668.60 400.32,668.74 402.08,668.89 403.84,669.00 405.60,669.02 407.36,668.97 409.12,668.88 410.88,668.81 412.64,668.82 414.40,668.94 416.16,669.14 417.92,669.39 419.68,669.61 421.44,669.74 423.20,669.77 424.96,669.71 426.72,669.60 428.48,669.52 430.24,669.50 432.00,669.57 433.76,669.70 435.52,669.83 437.28,669.90 439.04,669.87 440.80,669.73 442.56,669.51 444.32,669.28 446.08,669.10 447.84,669.00 449.60,669.01 451.36,669.07 453.12,669.14 454.88,669.15 456.64,669.07 458.40,668.92 460.16,668.73 461.92,668.56 463.68,668.49 465.44,668.53 467.20,668.67 468.96,668.86 470.72,669.05 472.48,669.17 474.24,669.20 476.00,669.15 477.76,669.09 479.52,669.07 481.28,669.15 483.04,669.33 484.80,669.60 486.56,669.90 488.32,670.16 490.08,670.34 491.84,670.41 493.60,670.40 495.36,670.35 497.12,670.31 498.88,670.30 500.64,670.33 502.40,670.36 504.16,670.35 505.92,670.25 507.68,670.04 509.44,669.74 511.20,669.41 512.96,669.11 514.72,668.90 516.48,668.81" fill="none" stroke="#3d6cc0" stroke-width="1.6"/>
<line x1="326.30" y1="776.40" x2="516.10" y2="776.40" stroke="#e0302a" stroke-width="1.8"/>
<line x1="329.90" y1="642.60" x2="360.40" y2="642.60" stroke="#3d6cc0" stroke-width="1.8"/>
<line x1="329.90" y1="658.80" x2="360.40" y2="658.80" stroke="#e0302a" stroke-width="1.8"/>
<text x="363.50" y="647.20" font-size="12.9" fill="#111" text-anchor="start">GGFF</text>
<text x="363.50" y="663.40" font-size="12.9" fill="#111" text-anchor="start"><tspan font-style="italic">h</tspan>-BN/GGFF</text>
<rect x="590.1" y="631.0" width="190.69999999999993" height="154.0" fill="none" stroke="#111" stroke-width="1.2"/>
<line x1="608.50" y1="785.00" x2="608.50" y2="788.50" stroke="#111" stroke-width="1.1"/>
<text x="608.50" y="800.30" font-size="13.5" fill="#111" text-anchor="middle">0</text>
<line x1="646.70" y1="785.00" x2="646.70" y2="788.50" stroke="#111" stroke-width="1.1"/>
<text x="646.70" y="800.30" font-size="13.5" fill="#111" text-anchor="middle">50</text>
<line x1="684.90" y1="785.00" x2="684.90" y2="788.50" stroke="#111" stroke-width="1.1"/>
<text x="684.90" y="800.30" font-size="13.5" fill="#111" text-anchor="middle">100</text>
<line x1="723.10" y1="785.00" x2="723.10" y2="788.50" stroke="#111" stroke-width="1.1"/>
<text x="723.10" y="800.30" font-size="13.5" fill="#111" text-anchor="middle">150</text>
<line x1="761.30" y1="785.00" x2="761.30" y2="788.50" stroke="#111" stroke-width="1.1"/>
<text x="761.30" y="800.30" font-size="13.5" fill="#111" text-anchor="middle">200</text>
<line x1="627.60" y1="785.00" x2="627.60" y2="787.00" stroke="#111" stroke-width="1.0"/>
<line x1="665.80" y1="785.00" x2="665.80" y2="787.00" stroke="#111" stroke-width="1.0"/>
<line x1="704.00" y1="785.00" x2="704.00" y2="787.00" stroke="#111" stroke-width="1.0"/>
<line x1="742.20" y1="785.00" x2="742.20" y2="787.00" stroke="#111" stroke-width="1.0"/>
<line x1="586.60" y1="773.10" x2="590.10" y2="773.10" stroke="#111" stroke-width="1.1"/>
<text x="584.50" y="776.70" font-size="13.5" fill="#111" text-anchor="end">0</text>
<line x1="586.60" y1="749.40" x2="590.10" y2="749.40" stroke="#111" stroke-width="1.1"/>
<text x="584.50" y="753.00" font-size="13.5" fill="#111" text-anchor="end">2</text>
<line x1="586.60" y1="725.70" x2="590.10" y2="725.70" stroke="#111" stroke-width="1.1"/>
<text x="584.50" y="729.30" font-size="13.5" fill="#111" text-anchor="end">4</text>
<line x1="586.60" y1="702.00" x2="590.10" y2="702.00" stroke="#111" stroke-width="1.1"/>
<text x="584.50" y="705.60" font-size="13.5" fill="#111" text-anchor="end">6</text>
<line x1="586.60" y1="678.30" x2="590.10" y2="678.30" stroke="#111" stroke-width="1.1"/>
<text x="584.50" y="681.90" font-size="13.5" fill="#111" text-anchor="end">8</text>
<line x1="586.60" y1="654.60" x2="590.10" y2="654.60" stroke="#111" stroke-width="1.1"/>
<text x="584.50" y="658.20" font-size="13.5" fill="#111" text-anchor="end">10</text>
<line x1="586.60" y1="630.90" x2="590.10" y2="630.90" stroke="#111" stroke-width="1.1"/>
<text x="584.50" y="634.50" font-size="13.5" fill="#111" text-anchor="end">12</text>
<line x1="588.10" y1="761.25" x2="590.10" y2="761.25" stroke="#111" stroke-width="1.0"/>
<line x1="588.10" y1="737.55" x2="590.10" y2="737.55" stroke="#111" stroke-width="1.0"/>
<line x1="588.10" y1="713.85" x2="590.10" y2="713.85" stroke="#111" stroke-width="1.0"/>
<line x1="588.10" y1="690.15" x2="590.10" y2="690.15" stroke="#111" stroke-width="1.0"/>
<line x1="588.10" y1="666.45" x2="590.10" y2="666.45" stroke="#111" stroke-width="1.0"/>
<line x1="588.10" y1="642.75" x2="590.10" y2="642.75" stroke="#111" stroke-width="1.0"/>
<text x="685.40" y="815.00" font-size="14.3" fill="#111" text-anchor="middle">Voltage (V)</text>
<text x="563.60" y="715.00" font-size="14.6" fill="#111" text-anchor="middle" transform="rotate(-90 563.6 715)">Current (μA)</text>
<line x1="608.50" y1="773.10" x2="761.30" y2="651.64" stroke="#2e8ae6" stroke-width="1.6"/>
<line x1="608.50" y1="773.10" x2="761.30" y2="773.10" stroke="#e8304a" stroke-width="1.6"/>
<circle cx="608.50" cy="773.10" r="3.0" fill="none" stroke="#3a92ea" stroke-width="1.2"/>
<circle cx="608.50" cy="773.10" r="3.0" fill="url(#ballR)"/>
<circle cx="610.03" cy="771.82" r="3.0" fill="none" stroke="#3a92ea" stroke-width="1.2"/>
<circle cx="610.03" cy="773.10" r="3.0" fill="url(#ballR)"/>
<circle cx="611.56" cy="770.54" r="3.0" fill="none" stroke="#3a92ea" stroke-width="1.2"/>
<circle cx="611.56" cy="773.10" r="3.0" fill="url(#ballR)"/>
<circle cx="613.08" cy="769.26" r="3.0" fill="none" stroke="#3a92ea" stroke-width="1.2"/>
<circle cx="613.08" cy="773.10" r="3.0" fill="url(#ballR)"/>
<circle cx="614.61" cy="767.98" r="3.0" fill="none" stroke="#3a92ea" stroke-width="1.2"/>
<circle cx="614.61" cy="773.10" r="3.0" fill="url(#ballR)"/>
<circle cx="616.14" cy="766.70" r="3.0" fill="none" stroke="#3a92ea" stroke-width="1.2"/>
<circle cx="616.14" cy="773.10" r="3.0" fill="url(#ballR)"/>
<circle cx="617.67" cy="765.42" r="3.0" fill="none" stroke="#3a92ea" stroke-width="1.2"/>
<circle cx="617.67" cy="773.10" r="3.0" fill="url(#ballR)"/>
<circle cx="619.20" cy="764.14" r="3.0" fill="none" stroke="#3a92ea" stroke-width="1.2"/>
<circle cx="619.20" cy="773.10" r="3.0" fill="url(#ballR)"/>
<circle cx="620.72" cy="762.86" r="3.0" fill="none" stroke="#3a92ea" stroke-width="1.2"/>
<circle cx="620.72" cy="773.10" r="3.0" fill="url(#ballR)"/>
<circle cx="622.25" cy="761.58" r="3.0" fill="none" stroke="#3a92ea" stroke-width="1.2"/>
<circle cx="622.25" cy="773.10" r="3.0" fill="url(#ballR)"/>
<circle cx="623.78" cy="760.30" r="3.0" fill="none" stroke="#3a92ea" stroke-width="1.2"/>
<circle cx="623.78" cy="773.10" r="3.0" fill="url(#ballR)"/>
<circle cx="646.70" cy="742.05" r="3.3" fill="url(#ballB)"/>
<circle cx="646.70" cy="773.10" r="3.3" fill="url(#ballR)"/>
<circle cx="684.90" cy="714.09" r="3.3" fill="url(#ballB)"/>
<circle cx="684.90" cy="773.10" r="3.3" fill="url(#ballR)"/>
<circle cx="723.10" cy="686.48" r="3.3" fill="url(#ballB)"/>
<circle cx="723.10" cy="773.10" r="3.3" fill="url(#ballR)"/>
<circle cx="761.30" cy="647.13" r="3.3" fill="url(#ballB)"/>
<circle cx="761.30" cy="773.10" r="3.3" fill="url(#ballR)"/>
<circle cx="607.7" cy="644.7" r="3.0" fill="url(#ballB)"/>
<circle cx="607.7" cy="659.1" r="3.0" fill="url(#ballR)"/>
<text x="620.50" y="648.60" font-size="11.7" fill="#111" text-anchor="start">GGF</text>
<text x="620.50" y="662.70" font-size="11.7" fill="#111" text-anchor="start"><tspan font-style="italic">h</tspan>-BN/GGF</text>
<defs>
<linearGradient id="tube1" x1="0" y1="0" x2="0" y2="1">
<stop offset="0" stop-color="#e4f1f5"/><stop offset="0.25" stop-color="#d2eaf1"/><stop offset="0.55" stop-color="#cfe8ef"/><stop offset="0.68" stop-color="#9ab3b8"/><stop offset="1" stop-color="#7a9094"/>
</linearGradient>
<linearGradient id="tube2" x1="0" y1="0" x2="0" y2="1">
<stop offset="0" stop-color="#5a6468"/><stop offset="0.15" stop-color="#a8c4cc"/><stop offset="0.4" stop-color="#d0e8ee"/><stop offset="0.58" stop-color="#8ca2a8"/><stop offset="0.8" stop-color="#5e6e74"/><stop offset="1" stop-color="#3a4448"/>
</linearGradient>
<linearGradient id="band" x1="0" y1="0" x2="0" y2="1">
<stop offset="0" stop-color="#f6c4c0"/><stop offset="0.15" stop-color="#f4bab6"/><stop offset="0.22" stop-color="#e7948f"/><stop offset="0.5" stop-color="#efa7a2"/><stop offset="0.78" stop-color="#c97a74"/><stop offset="0.85" stop-color="#f2b2ad"/><stop offset="1" stop-color="#f6c0bc"/>
</linearGradient>
<radialGradient id="atomC" cx="0.4" cy="0.35" r="0.7"><stop offset="0" stop-color="#8c8c8c"/><stop offset="0.6" stop-color="#4a4a4a"/><stop offset="1" stop-color="#333"/></radialGradient>
<radialGradient id="atomO" cx="0.35" cy="0.35" r="0.7"><stop offset="0" stop-color="#ffd080"/><stop offset="1" stop-color="#e88a1a"/></radialGradient>
<radialGradient id="atomN" cx="0.35" cy="0.35" r="0.7"><stop offset="0" stop-color="#6a8cff"/><stop offset="1" stop-color="#1c3cc8"/></radialGradient>
</defs>
<defs><linearGradient id="bandc" x1="0" y1="0" x2="0" y2="1">
<stop offset="0" stop-color="#e9a09b"/><stop offset="0.25" stop-color="#f0b0ab"/><stop offset="0.6" stop-color="#eba39e"/><stop offset="0.9" stop-color="#d48b85"/><stop offset="1" stop-color="#dc958f"/>
</linearGradient>
<linearGradient id="bandh" x1="0" y1="0" x2="1" y2="0">
<stop offset="0" stop-color="#fff" stop-opacity="0"/><stop offset="0.55" stop-color="#fff" stop-opacity="0.35"/><stop offset="1" stop-color="#fff" stop-opacity="0"/>
</linearGradient>
<clipPath id="t1clip"><rect x="52.5" y="645" width="185" height="31" rx="6"/></clipPath><clipPath id="t2clip"><rect x="53" y="737" width="186.5" height="30.5" rx="6"/></clipPath>
</defs>
<rect x="52.5" y="647.8" width="185" height="25.5" rx="6" fill="url(#tube1)"/>
<g clip-path="url(#t1clip)"><path d="M40.0,652.6 L48.0,655.6 L48.0,661.6 L40.0,665.2 L32.0,661.6 L32.0,655.6 Z" fill="#d6edf4" opacity="0.85"/><path d="M48.0,661.6 L56.0,665.2 L56.0,672.7 L40.0,672.7 L40.0,665.2 Z" fill="#8aa2a8" opacity="0.65"/><path d="M56.0,652.6 L64.0,655.6 L64.0,661.6 L56.0,665.2 L48.0,661.6 L48.0,655.6 Z" fill="#d6edf4" opacity="0.85"/><path d="M64.0,661.6 L72.0,665.2 L72.0,672.7 L56.0,672.7 L56.0,665.2 Z" fill="#8aa2a8" opacity="0.65"/><path d="M72.0,652.6 L80.0,655.6 L80.0,661.6 L72.0,665.2 L64.0,661.6 L64.0,655.6 Z" fill="#d6edf4" opacity="0.85"/><path d="M80.0,661.6 L88.0,665.2 L88.0,672.7 L72.0,672.7 L72.0,665.2 Z" fill="#8aa2a8" opacity="0.65"/><path d="M88.0,652.6 L96.0,655.6 L96.0,661.6 L88.0,665.2 L80.0,661.6 L80.0,655.6 Z" fill="#d6edf4" opacity="0.85"/><path d="M96.0,661.6 L104.0,665.2 L104.0,672.7 L88.0,672.7 L88.0,665.2 Z" fill="#8aa2a8" opacity="0.65"/><path d="M104.0,652.6 L112.0,655.6 L112.0,661.6 L104.0,665.2 L96.0,661.6 L96.0,655.6 Z" fill="#d6edf4" opacity="0.85"/><path d="M112.0,661.6 L120.0,665.2 L120.0,672.7 L104.0,672.7 L104.0,665.2 Z" fill="#8aa2a8" opacity="0.65"/><path d="M120.0,652.6 L128.0,655.6 L128.0,661.6 L120.0,665.2 L112.0,661.6 L112.0,655.6 Z" fill="#d6edf4" opacity="0.85"/><path d="M128.0,661.6 L136.0,665.2 L136.0,672.7 L120.0,672.7 L120.0,665.2 Z" fill="#8aa2a8" opacity="0.65"/><path d="M136.0,652.6 L144.0,655.6 L144.0,661.6 L136.0,665.2 L128.0,661.6 L128.0,655.6 Z" fill="#d6edf4" opacity="0.85"/><path d="M144.0,661.6 L152.0,665.2 L152.0,672.7 L136.0,672.7 L136.0,665.2 Z" fill="#8aa2a8" opacity="0.65"/><path d="M152.0,652.6 L160.0,655.6 L160.0,661.6 L152.0,665.2 L144.0,661.6 L144.0,655.6 Z" fill="#d6edf4" opacity="0.85"/><path d="M160.0,661.6 L168.0,665.2 L168.0,672.7 L152.0,672.7 L152.0,665.2 Z" fill="#8aa2a8" opacity="0.65"/><path d="M168.0,652.6 L176.0,655.6 L176.0,661.6 L168.0,665.2 L160.0,661.6 L160.0,655.6 Z" fill="#d6edf4" opacity="0.85"/><path d="M176.0,661.6 L184.0,665.2 L184.0,672.7 L168.0,672.7 L168.0,665.2 Z" fill="#8aa2a8" opacity="0.65"/><path d="M184.0,652.6 L192.0,655.6 L192.0,661.6 L184.0,665.2 L176.0,661.6 L176.0,655.6 Z" fill="#d6edf4" opacity="0.85"/><path d="M192.0,661.6 L200.0,665.2 L200.0,672.7 L184.0,672.7 L184.0,665.2 Z" fill="#8aa2a8" opacity="0.65"/><path d="M200.0,652.6 L208.0,655.6 L208.0,661.6 L200.0,665.2 L192.0,661.6 L192.0,655.6 Z" fill="#d6edf4" opacity="0.85"/><path d="M208.0,661.6 L216.0,665.2 L216.0,672.7 L200.0,672.7 L200.0,665.2 Z" fill="#8aa2a8" opacity="0.65"/><path d="M216.0,652.6 L224.0,655.6 L224.0,661.6 L216.0,665.2 L208.0,661.6 L208.0,655.6 Z" fill="#d6edf4" opacity="0.85"/><path d="M224.0,661.6 L232.0,665.2 L232.0,672.7 L216.0,672.7 L216.0,665.2 Z" fill="#8aa2a8" opacity="0.65"/><path d="M232.0,652.6 L240.0,655.6 L240.0,661.6 L232.0,665.2 L224.0,661.6 L224.0,655.6 Z" fill="#d6edf4" opacity="0.85"/><path d="M240.0,661.6 L248.0,665.2 L248.0,672.7 L232.0,672.7 L232.0,665.2 Z" fill="#8aa2a8" opacity="0.65"/><path d="M40.0,652.6 L48.0,655.6 L48.0,661.6 L40.0,665.2 M40.0,652.6 L32.0,655.6 M32.0,661.6 L40.0,665.2 M40.0,648 L40.0,652.6 M40.0,665.2 L40.0,672.7 M40.0,648 L48.0,648 M40.0,672.7 L48.0,672.7 M56.0,652.6 L64.0,655.6 L64.0,661.6 L56.0,665.2 M56.0,652.6 L48.0,655.6 M48.0,661.6 L56.0,665.2 M56.0,648 L56.0,652.6 M56.0,665.2 L56.0,672.7 M56.0,648 L64.0,648 M56.0,672.7 L64.0,672.7 M72.0,652.6 L80.0,655.6 L80.0,661.6 L72.0,665.2 M72.0,652.6 L64.0,655.6 M64.0,661.6 L72.0,665.2 M72.0,648 L72.0,652.6 M72.0,665.2 L72.0,672.7 M72.0,648 L80.0,648 M72.0,672.7 L80.0,672.7 M88.0,652.6 L96.0,655.6 L96.0,661.6 L88.0,665.2 M88.0,652.6 L80.0,655.6 M80.0,661.6 L88.0,665.2 M88.0,648 L88.0,652.6 M88.0,665.2 L88.0,672.7 M88.0,648 L96.0,648 M88.0,672.7 L96.0,672.7 M104.0,652.6 L112.0,655.6 L112.0,661.6 L104.0,665.2 M104.0,652.6 L96.0,655.6 M96.0,661.6 L104.0,665.2 M104.0,648 L104.0,652.6 M104.0,665.2 L104.0,672.7 M104.0,648 L112.0,648 M104.0,672.7 L112.0,672.7 M120.0,652.6 L128.0,655.6 L128.0,661.6 L120.0,665.2 M120.0,652.6 L112.0,655.6 M112.0,661.6 L120.0,665.2 M120.0,648 L120.0,652.6 M120.0,665.2 L120.0,672.7 M120.0,648 L128.0,648 M120.0,672.7 L128.0,672.7 M136.0,652.6 L144.0,655.6 L144.0,661.6 L136.0,665.2 M136.0,652.6 L128.0,655.6 M128.0,661.6 L136.0,665.2 M136.0,648 L136.0,652.6 M136.0,665.2 L136.0,672.7 M136.0,648 L144.0,648 M136.0,672.7 L144.0,672.7 M152.0,652.6 L160.0,655.6 L160.0,661.6 L152.0,665.2 M152.0,652.6 L144.0,655.6 M144.0,661.6 L152.0,665.2 M152.0,648 L152.0,652.6 M152.0,665.2 L152.0,672.7 M152.0,648 L160.0,648 M152.0,672.7 L160.0,672.7 M168.0,652.6 L176.0,655.6 L176.0,661.6 L168.0,665.2 M168.0,652.6 L160.0,655.6 M160.0,661.6 L168.0,665.2 M168.0,648 L168.0,652.6 M168.0,665.2 L168.0,672.7 M168.0,648 L176.0,648 M168.0,672.7 L176.0,672.7 M184.0,652.6 L192.0,655.6 L192.0,661.6 L184.0,665.2 M184.0,652.6 L176.0,655.6 M176.0,661.6 L184.0,665.2 M184.0,648 L184.0,652.6 M184.0,665.2 L184.0,672.7 M184.0,648 L192.0,648 M184.0,672.7 L192.0,672.7 M200.0,652.6 L208.0,655.6 L208.0,661.6 L200.0,665.2 M200.0,652.6 L192.0,655.6 M192.0,661.6 L200.0,665.2 M200.0,648 L200.0,652.6 M200.0,665.2 L200.0,672.7 M200.0,648 L208.0,648 M200.0,672.7 L208.0,672.7 M216.0,652.6 L224.0,655.6 L224.0,661.6 L216.0,665.2 M216.0,652.6 L208.0,655.6 M208.0,661.6 L216.0,665.2 M216.0,648 L216.0,652.6 M216.0,665.2 L216.0,672.7 M216.0,648 L224.0,648 M216.0,672.7 L224.0,672.7 M232.0,652.6 L240.0,655.6 L240.0,661.6 L232.0,665.2 M232.0,652.6 L224.0,655.6 M224.0,661.6 L232.0,665.2 M232.0,648 L232.0,652.6 M232.0,665.2 L232.0,672.7 M232.0,648 L240.0,648 M232.0,672.7 L240.0,672.7" stroke="#505050" stroke-width="1.2" fill="none"/></g>
<circle cx="56.0" cy="652.6" r="2.2" fill="url(#atomC)"/><circle cx="64.0" cy="655.6" r="2.2" fill="url(#atomC)"/><circle cx="64.0" cy="661.6" r="2.2" fill="url(#atomC)"/><circle cx="56.0" cy="665.2" r="2.2" fill="url(#atomC)"/><circle cx="56.0" cy="648.0" r="2.2" fill="url(#atomC)"/><circle cx="64.0" cy="648.0" r="2.2" fill="url(#atomC)"/><circle cx="56.0" cy="672.7" r="2.2" fill="url(#atomC)"/><circle cx="64.0" cy="672.7" r="2.2" fill="url(#atomC)"/><circle cx="72.0" cy="652.6" r="2.2" fill="url(#atomC)"/><circle cx="80.0" cy="655.6" r="2.2" fill="url(#atomC)"/><circle cx="80.0" cy="661.6" r="2.2" fill="url(#atomC)"/><circle cx="72.0" cy="665.2" r="2.2" fill="url(#atomC)"/><circle cx="72.0" cy="648.0" r="2.2" fill="url(#atomC)"/><circle cx="80.0" cy="648.0" r="2.2" fill="url(#atomC)"/><circle cx="72.0" cy="672.7" r="2.2" fill="url(#atomC)"/><circle cx="80.0" cy="672.7" r="2.2" fill="url(#atomC)"/><circle cx="88.0" cy="652.6" r="2.2" fill="url(#atomC)"/><circle cx="96.0" cy="655.6" r="2.2" fill="url(#atomC)"/><circle cx="96.0" cy="661.6" r="2.2" fill="url(#atomC)"/><circle cx="88.0" cy="665.2" r="2.2" fill="url(#atomC)"/><circle cx="88.0" cy="648.0" r="2.2" fill="url(#atomC)"/><circle cx="96.0" cy="648.0" r="2.2" fill="url(#atomC)"/><circle cx="88.0" cy="672.7" r="2.2" fill="url(#atomC)"/><circle cx="96.0" cy="672.7" r="2.2" fill="url(#atomC)"/><circle cx="104.0" cy="652.6" r="2.2" fill="url(#atomC)"/><circle cx="112.0" cy="655.6" r="2.2" fill="url(#atomC)"/><circle cx="112.0" cy="661.6" r="2.2" fill="url(#atomC)"/><circle cx="104.0" cy="665.2" r="2.2" fill="url(#atomC)"/><circle cx="104.0" cy="648.0" r="2.2" fill="url(#atomC)"/><circle cx="112.0" cy="648.0" r="2.2" fill="url(#atomC)"/><circle cx="104.0" cy="672.7" r="2.2" fill="url(#atomC)"/><circle cx="112.0" cy="672.7" r="2.2" fill="url(#atomC)"/><circle cx="120.0" cy="652.6" r="2.2" fill="url(#atomC)"/><circle cx="128.0" cy="655.6" r="2.2" fill="url(#atomC)"/><circle cx="128.0" cy="661.6" r="2.2" fill="url(#atomC)"/><circle cx="120.0" cy="665.2" r="2.2" fill="url(#atomC)"/><circle cx="120.0" cy="648.0" r="2.2" fill="url(#atomC)"/><circle cx="128.0" cy="648.0" r="2.2" fill="url(#atomC)"/><circle cx="120.0" cy="672.7" r="2.2" fill="url(#atomC)"/><circle cx="128.0" cy="672.7" r="2.2" fill="url(#atomC)"/><circle cx="136.0" cy="652.6" r="2.2" fill="url(#atomC)"/><circle cx="144.0" cy="655.6" r="2.2" fill="url(#atomC)"/><circle cx="144.0" cy="661.6" r="2.2" fill="url(#atomC)"/><circle cx="136.0" cy="665.2" r="2.2" fill="url(#atomC)"/><circle cx="136.0" cy="648.0" r="2.2" fill="url(#atomC)"/><circle cx="144.0" cy="648.0" r="2.2" fill="url(#atomC)"/><circle cx="136.0" cy="672.7" r="2.2" fill="url(#atomC)"/><circle cx="144.0" cy="672.7" r="2.2" fill="url(#atomC)"/><circle cx="152.0" cy="652.6" r="2.2" fill="url(#atomC)"/><circle cx="160.0" cy="655.6" r="2.2" fill="url(#atomC)"/><circle cx="160.0" cy="661.6" r="2.2" fill="url(#atomC)"/><circle cx="152.0" cy="665.2" r="2.2" fill="url(#atomC)"/><circle cx="152.0" cy="648.0" r="2.2" fill="url(#atomC)"/><circle cx="160.0" cy="648.0" r="2.2" fill="url(#atomC)"/><circle cx="152.0" cy="672.7" r="2.2" fill="url(#atomC)"/><circle cx="160.0" cy="672.7" r="2.2" fill="url(#atomC)"/><circle cx="168.0" cy="652.6" r="2.2" fill="url(#atomC)"/><circle cx="176.0" cy="655.6" r="2.2" fill="url(#atomC)"/><circle cx="176.0" cy="661.6" r="2.2" fill="url(#atomC)"/><circle cx="168.0" cy="665.2" r="2.2" fill="url(#atomC)"/><circle cx="168.0" cy="648.0" r="2.2" fill="url(#atomC)"/><circle cx="176.0" cy="648.0" r="2.2" fill="url(#atomC)"/><circle cx="168.0" cy="672.7" r="2.2" fill="url(#atomC)"/><circle cx="176.0" cy="672.7" r="2.2" fill="url(#atomC)"/><circle cx="184.0" cy="652.6" r="2.2" fill="url(#atomC)"/><circle cx="192.0" cy="655.6" r="2.2" fill="url(#atomC)"/><circle cx="192.0" cy="661.6" r="2.2" fill="url(#atomC)"/><circle cx="184.0" cy="665.2" r="2.2" fill="url(#atomC)"/><circle cx="184.0" cy="648.0" r="2.2" fill="url(#atomC)"/><circle cx="192.0" cy="648.0" r="2.2" fill="url(#atomC)"/><circle cx="184.0" cy="672.7" r="2.2" fill="url(#atomC)"/><circle cx="192.0" cy="672.7" r="2.2" fill="url(#atomC)"/><circle cx="200.0" cy="652.6" r="2.2" fill="url(#atomC)"/><circle cx="208.0" cy="655.6" r="2.2" fill="url(#atomC)"/><circle cx="208.0" cy="661.6" r="2.2" fill="url(#atomC)"/><circle cx="200.0" cy="665.2" r="2.2" fill="url(#atomC)"/><circle cx="200.0" cy="648.0" r="2.2" fill="url(#atomC)"/><circle cx="208.0" cy="648.0" r="2.2" fill="url(#atomC)"/><circle cx="200.0" cy="672.7" r="2.2" fill="url(#atomC)"/><circle cx="208.0" cy="672.7" r="2.2" fill="url(#atomC)"/><circle cx="216.0" cy="652.6" r="2.2" fill="url(#atomC)"/><circle cx="224.0" cy="655.6" r="2.2" fill="url(#atomC)"/><circle cx="224.0" cy="661.6" r="2.2" fill="url(#atomC)"/><circle cx="216.0" cy="665.2" r="2.2" fill="url(#atomC)"/><circle cx="216.0" cy="648.0" r="2.2" fill="url(#atomC)"/><circle cx="224.0" cy="648.0" r="2.2" fill="url(#atomC)"/><circle cx="216.0" cy="672.7" r="2.2" fill="url(#atomC)"/><circle cx="224.0" cy="672.7" r="2.2" fill="url(#atomC)"/><circle cx="232.0" cy="652.6" r="2.2" fill="url(#atomC)"/><circle cx="232.0" cy="665.2" r="2.2" fill="url(#atomC)"/><circle cx="232.0" cy="648.0" r="2.2" fill="url(#atomC)"/><circle cx="232.0" cy="672.7" r="2.2" fill="url(#atomC)"/>
<path d="M82.4,632.3 L91.4,632.3 L91.4,640.5 C84.7,649.9 84.7,668.6 91.4,678.0 L91.4,688.0 L82.4,688.0 L82.4,678.0 C73.10000000000001,668.6 73.10000000000001,649.9 82.4,640.5 Z" fill="#f4bcb7"/>
<path d="M91.4,640.5 C84.7,649.9 84.7,668.6 91.4,678.0 L82.4,678.0 C73.10000000000001,668.6 73.10000000000001,649.9 82.4,640.5 Z" fill="url(#bandc)"/>
<path d="M94.3,632.3 L103.3,632.3 L103.3,640.5 C96.6,649.9 96.6,668.6 103.3,678.0 L103.3,688.0 L94.3,688.0 L94.3,678.0 C85.0,668.6 85.0,649.9 94.3,640.5 Z" fill="#f4bcb7"/>
<path d="M103.3,640.5 C96.6,649.9 96.6,668.6 103.3,678.0 L94.3,678.0 C85.0,668.6 85.0,649.9 94.3,640.5 Z" fill="url(#bandc)"/>
<path d="M186.8,632.3 L195.8,632.3 L195.8,640.5 C189.10000000000002,649.9 189.10000000000002,668.6 195.8,678.0 L195.8,688.0 L186.8,688.0 L186.8,678.0 C177.5,668.6 177.5,649.9 186.8,640.5 Z" fill="#f4bcb7"/>
<path d="M195.8,640.5 C189.10000000000002,649.9 189.10000000000002,668.6 195.8,678.0 L186.8,678.0 C177.5,668.6 177.5,649.9 186.8,640.5 Z" fill="url(#bandc)"/>
<path d="M198.6,632.3 L207.6,632.3 L207.6,640.5 C200.9,649.9 200.9,668.6 207.6,678.0 L207.6,688.0 L198.6,688.0 L198.6,678.0 C189.29999999999998,668.6 189.29999999999998,649.9 198.6,640.5 Z" fill="#f4bcb7"/>
<path d="M207.6,640.5 C200.9,649.9 200.9,668.6 207.6,678.0 L198.6,678.0 C189.29999999999998,668.6 189.29999999999998,649.9 198.6,640.5 Z" fill="url(#bandc)"/>
<polyline points="87,679.3 87,703.2 163.3,703.2" fill="none" stroke="#222" stroke-width="1.3"/>
<polyline points="169.3,703.2 204.8,703.2 204.8,679.3" fill="none" stroke="#222" stroke-width="1.3"/>
<polyline points="97,679.3 97,690.9 191.5,690.9 191.5,679.3" fill="none" stroke="#222" stroke-width="1.3"/>
<line x1="163.30" y1="697.90" x2="163.30" y2="708.50" stroke="#222" stroke-width="1.5"/>
<line x1="169.30" y1="694.70" x2="169.30" y2="711.70" stroke="#222" stroke-width="1.5"/>
<circle cx="109.7" cy="703.2" r="8.6" fill="#a9cbe8"/>
<text x="109.70" y="708.20" font-size="13.5" fill="#fff" text-anchor="middle">A</text>
<circle cx="142.6" cy="690.9" r="8.6" fill="#a9cbe8"/>
<text x="142.60" y="695.90" font-size="13.5" fill="#fff" text-anchor="middle">V</text>
<circle cx="87" cy="679.3" r="3.0" fill="#000"/>
<circle cx="97" cy="679.3" r="3.0" fill="#000"/>
<circle cx="191.5" cy="679.3" r="3.0" fill="#000"/>
<circle cx="204.8" cy="679.3" r="3.0" fill="#000"/>
<rect x="53" y="737" width="186.5" height="30.5" rx="6" fill="url(#tube2)"/>
<g clip-path="url(#t2clip)"><ellipse cx="54.1" cy="747.5" rx="6" ry="3.2" fill="#dff2f7" opacity="0.9"/><ellipse cx="54.1" cy="756" rx="6" ry="3" fill="#6f8288" opacity="0.8"/><ellipse cx="70.1" cy="747.5" rx="6" ry="3.2" fill="#dff2f7" opacity="0.9"/><ellipse cx="70.1" cy="756" rx="6" ry="3" fill="#6f8288" opacity="0.8"/><ellipse cx="86.1" cy="747.5" rx="6" ry="3.2" fill="#dff2f7" opacity="0.9"/><ellipse cx="86.1" cy="756" rx="6" ry="3" fill="#6f8288" opacity="0.8"/><ellipse cx="102.1" cy="747.5" rx="6" ry="3.2" fill="#dff2f7" opacity="0.9"/><ellipse cx="102.1" cy="756" rx="6" ry="3" fill="#6f8288" opacity="0.8"/><ellipse cx="118.1" cy="747.5" rx="6" ry="3.2" fill="#dff2f7" opacity="0.9"/><ellipse cx="118.1" cy="756" rx="6" ry="3" fill="#6f8288" opacity="0.8"/><ellipse cx="134.1" cy="747.5" rx="6" ry="3.2" fill="#dff2f7" opacity="0.9"/><ellipse cx="134.1" cy="756" rx="6" ry="3" fill="#6f8288" opacity="0.8"/><ellipse cx="150.1" cy="747.5" rx="6" ry="3.2" fill="#dff2f7" opacity="0.9"/><ellipse cx="150.1" cy="756" rx="6" ry="3" fill="#6f8288" opacity="0.8"/><ellipse cx="166.1" cy="747.5" rx="6" ry="3.2" fill="#dff2f7" opacity="0.9"/><ellipse cx="166.1" cy="756" rx="6" ry="3" fill="#6f8288" opacity="0.8"/><ellipse cx="182.1" cy="747.5" rx="6" ry="3.2" fill="#dff2f7" opacity="0.9"/><ellipse cx="182.1" cy="756" rx="6" ry="3" fill="#6f8288" opacity="0.8"/><ellipse cx="198.1" cy="747.5" rx="6" ry="3.2" fill="#dff2f7" opacity="0.9"/><ellipse cx="198.1" cy="756" rx="6" ry="3" fill="#6f8288" opacity="0.8"/><ellipse cx="214.1" cy="747.5" rx="6" ry="3.2" fill="#dff2f7" opacity="0.9"/><ellipse cx="214.1" cy="756" rx="6" ry="3" fill="#6f8288" opacity="0.8"/><ellipse cx="230.1" cy="747.5" rx="6" ry="3.2" fill="#dff2f7" opacity="0.9"/><ellipse cx="230.1" cy="756" rx="6" ry="3" fill="#6f8288" opacity="0.8"/><ellipse cx="246.1" cy="747.5" rx="6" ry="3.2" fill="#dff2f7" opacity="0.9"/><ellipse cx="246.1" cy="756" rx="6" ry="3" fill="#6f8288" opacity="0.8"/><rect x="53" y="738.2" width="186.5" height="1.2" fill="#f4f4f4" opacity="0.8"/><rect x="53" y="762.8" width="186.5" height="1.2" fill="#f4f4f4" opacity="0.8"/><path d="M50.099999999999994,741.3 L58.099999999999994,744.5 L66.1,741.3 M58.099999999999994,744.5 L57.599999999999994,752.6 L50.099999999999994,757 L50.099999999999994,764 M57.599999999999994,752.6 L66.1,757 M50.099999999999994,741.3 L51.3,736.3 M58.099999999999994,744.5 L59.49999999999999,736.3 M50.099999999999994,750.8 L57.599999999999994,752.6 M58.099999999999994,760.8 L50.099999999999994,757 M58.099999999999994,760.8 L58.099999999999994,766.5 L50.099999999999994,764 M58.099999999999994,766.5 L66.1,764 M66.1,741.3 L74.1,744.5 L82.1,741.3 M74.1,744.5 L73.6,752.6 L66.1,757 L66.1,764 M73.6,752.6 L82.1,757 M66.1,741.3 L67.3,736.3 M74.1,744.5 L75.5,736.3 M66.1,750.8 L73.6,752.6 M74.1,760.8 L66.1,757 M74.1,760.8 L74.1,766.5 L66.1,764 M74.1,766.5 L82.1,764 M82.1,741.3 L90.1,744.5 L98.1,741.3 M90.1,744.5 L89.6,752.6 L82.1,757 L82.1,764 M89.6,752.6 L98.1,757 M82.1,741.3 L83.3,736.3 M90.1,744.5 L91.5,736.3 M82.1,750.8 L89.6,752.6 M90.1,760.8 L82.1,757 M90.1,760.8 L90.1,766.5 L82.1,764 M90.1,766.5 L98.1,764 M98.1,741.3 L106.1,744.5 L114.1,741.3 M106.1,744.5 L105.6,752.6 L98.1,757 L98.1,764 M105.6,752.6 L114.1,757 M98.1,741.3 L99.3,736.3 M106.1,744.5 L107.5,736.3 M98.1,750.8 L105.6,752.6 M106.1,760.8 L98.1,757 M106.1,760.8 L106.1,766.5 L98.1,764 M106.1,766.5 L114.1,764 M114.1,741.3 L122.1,744.5 L130.1,741.3 M122.1,744.5 L121.6,752.6 L114.1,757 L114.1,764 M121.6,752.6 L130.1,757 M114.1,741.3 L115.3,736.3 M122.1,744.5 L123.5,736.3 M114.1,750.8 L121.6,752.6 M122.1,760.8 L114.1,757 M122.1,760.8 L122.1,766.5 L114.1,764 M122.1,766.5 L130.1,764 M130.1,741.3 L138.1,744.5 L146.1,741.3 M138.1,744.5 L137.6,752.6 L130.1,757 L130.1,764 M137.6,752.6 L146.1,757 M130.1,741.3 L131.29999999999998,736.3 M138.1,744.5 L139.5,736.3 M130.1,750.8 L137.6,752.6 M138.1,760.8 L130.1,757 M138.1,760.8 L138.1,766.5 L130.1,764 M138.1,766.5 L146.1,764 M146.1,741.3 L154.1,744.5 L162.1,741.3 M154.1,744.5 L153.6,752.6 L146.1,757 L146.1,764 M153.6,752.6 L162.1,757 M146.1,741.3 L147.29999999999998,736.3 M154.1,744.5 L155.5,736.3 M146.1,750.8 L153.6,752.6 M154.1,760.8 L146.1,757 M154.1,760.8 L154.1,766.5 L146.1,764 M154.1,766.5 L162.1,764 M162.1,741.3 L170.1,744.5 L178.1,741.3 M170.1,744.5 L169.6,752.6 L162.1,757 L162.1,764 M169.6,752.6 L178.1,757 M162.1,741.3 L163.29999999999998,736.3 M170.1,744.5 L171.5,736.3 M162.1,750.8 L169.6,752.6 M170.1,760.8 L162.1,757 M170.1,760.8 L170.1,766.5 L162.1,764 M170.1,766.5 L178.1,764 M178.1,741.3 L186.1,744.5 L194.1,741.3 M186.1,744.5 L185.6,752.6 L178.1,757 L178.1,764 M185.6,752.6 L194.1,757 M178.1,741.3 L179.29999999999998,736.3 M186.1,744.5 L187.5,736.3 M178.1,750.8 L185.6,752.6 M186.1,760.8 L178.1,757 M186.1,760.8 L186.1,766.5 L178.1,764 M186.1,766.5 L194.1,764 M194.1,741.3 L202.1,744.5 L210.1,741.3 M202.1,744.5 L201.6,752.6 L194.1,757 L194.1,764 M201.6,752.6 L210.1,757 M194.1,741.3 L195.29999999999998,736.3 M202.1,744.5 L203.5,736.3 M194.1,750.8 L201.6,752.6 M202.1,760.8 L194.1,757 M202.1,760.8 L202.1,766.5 L194.1,764 M202.1,766.5 L210.1,764 M210.1,741.3 L218.1,744.5 L226.1,741.3 M218.1,744.5 L217.6,752.6 L210.1,757 L210.1,764 M217.6,752.6 L226.1,757 M210.1,741.3 L211.29999999999998,736.3 M218.1,744.5 L219.5,736.3 M210.1,750.8 L217.6,752.6 M218.1,760.8 L210.1,757 M218.1,760.8 L218.1,766.5 L210.1,764 M218.1,766.5 L226.1,764 M226.1,741.3 L234.1,744.5 L242.1,741.3 M234.1,744.5 L233.6,752.6 L226.1,757 L226.1,764 M233.6,752.6 L242.1,757 M226.1,741.3 L227.29999999999998,736.3 M234.1,744.5 L235.5,736.3 M226.1,750.8 L233.6,752.6 M234.1,760.8 L226.1,757 M234.1,760.8 L234.1,766.5 L226.1,764 M234.1,766.5 L242.1,764 M242.1,741.3 L250.1,744.5 L258.1,741.3 M250.1,744.5 L249.6,752.6 L242.1,757 L242.1,764 M249.6,752.6 L258.1,757 M242.1,741.3 L243.29999999999998,736.3 M250.1,744.5 L251.5,736.3 M242.1,750.8 L249.6,752.6 M250.1,760.8 L242.1,757 M250.1,760.8 L250.1,766.5 L242.1,764 M250.1,766.5 L258.1,764" stroke="#3a4a9a" stroke-width="1.1" fill="none" opacity="0.85"/></g>
<circle cx="58.1" cy="760.8" r="2.1" fill="url(#atomC)"/><circle cx="59.5" cy="736.3" r="2.55" fill="url(#atomO)"/><circle cx="58.1" cy="744.5" r="2.55" fill="url(#atomN)"/><circle cx="57.6" cy="752.6" r="2.55" fill="url(#atomO)"/><circle cx="58.1" cy="766.5" r="2.55" fill="url(#atomN)"/><circle cx="66.1" cy="750.8" r="2.1" fill="url(#atomC)"/><circle cx="74.1" cy="760.8" r="2.1" fill="url(#atomC)"/><circle cx="67.3" cy="736.3" r="2.55" fill="url(#atomN)"/><circle cx="75.5" cy="736.3" r="2.55" fill="url(#atomO)"/><circle cx="66.1" cy="741.3" r="2.55" fill="url(#atomO)"/><circle cx="74.1" cy="744.5" r="2.55" fill="url(#atomN)"/><circle cx="73.6" cy="752.6" r="2.55" fill="url(#atomO)"/><circle cx="66.1" cy="757.0" r="2.55" fill="url(#atomN)"/><circle cx="66.1" cy="764.0" r="2.55" fill="url(#atomO)"/><circle cx="74.1" cy="766.5" r="2.55" fill="url(#atomN)"/><circle cx="82.1" cy="750.8" r="2.1" fill="url(#atomC)"/><circle cx="90.1" cy="760.8" r="2.1" fill="url(#atomC)"/><circle cx="83.3" cy="736.3" r="2.55" fill="url(#atomN)"/><circle cx="91.5" cy="736.3" r="2.55" fill="url(#atomO)"/><circle cx="82.1" cy="741.3" r="2.55" fill="url(#atomO)"/><circle cx="90.1" cy="744.5" r="2.55" fill="url(#atomN)"/><circle cx="89.6" cy="752.6" r="2.55" fill="url(#atomO)"/><circle cx="82.1" cy="757.0" r="2.55" fill="url(#atomN)"/><circle cx="82.1" cy="764.0" r="2.55" fill="url(#atomO)"/><circle cx="90.1" cy="766.5" r="2.55" fill="url(#atomN)"/><circle cx="98.1" cy="750.8" r="2.1" fill="url(#atomC)"/><circle cx="106.1" cy="760.8" r="2.1" fill="url(#atomC)"/><circle cx="99.3" cy="736.3" r="2.55" fill="url(#atomN)"/><circle cx="107.5" cy="736.3" r="2.55" fill="url(#atomO)"/><circle cx="98.1" cy="741.3" r="2.55" fill="url(#atomO)"/><circle cx="106.1" cy="744.5" r="2.55" fill="url(#atomN)"/><circle cx="105.6" cy="752.6" r="2.55" fill="url(#atomO)"/><circle cx="98.1" cy="757.0" r="2.55" fill="url(#atomN)"/><circle cx="98.1" cy="764.0" r="2.55" fill="url(#atomO)"/><circle cx="106.1" cy="766.5" r="2.55" fill="url(#atomN)"/><circle cx="114.1" cy="750.8" r="2.1" fill="url(#atomC)"/><circle cx="122.1" cy="760.8" r="2.1" fill="url(#atomC)"/><circle cx="115.3" cy="736.3" r="2.55" fill="url(#atomN)"/><circle cx="123.5" cy="736.3" r="2.55" fill="url(#atomO)"/><circle cx="114.1" cy="741.3" r="2.55" fill="url(#atomO)"/><circle cx="122.1" cy="744.5" r="2.55" fill="url(#atomN)"/><circle cx="121.6" cy="752.6" r="2.55" fill="url(#atomO)"/><circle cx="114.1" cy="757.0" r="2.55" fill="url(#atomN)"/><circle cx="114.1" cy="764.0" r="2.55" fill="url(#atomO)"/><circle cx="122.1" cy="766.5" r="2.55" fill="url(#atomN)"/><circle cx="130.1" cy="750.8" r="2.1" fill="url(#atomC)"/><circle cx="138.1" cy="760.8" r="2.1" fill="url(#atomC)"/><circle cx="131.3" cy="736.3" r="2.55" fill="url(#atomN)"/><circle cx="139.5" cy="736.3" r="2.55" fill="url(#atomO)"/><circle cx="130.1" cy="741.3" r="2.55" fill="url(#atomO)"/><circle cx="138.1" cy="744.5" r="2.55" fill="url(#atomN)"/><circle cx="137.6" cy="752.6" r="2.55" fill="url(#atomO)"/><circle cx="130.1" cy="757.0" r="2.55" fill="url(#atomN)"/><circle cx="130.1" cy="764.0" r="2.55" fill="url(#atomO)"/><circle cx="138.1" cy="766.5" r="2.55" fill="url(#atomN)"/><circle cx="146.1" cy="750.8" r="2.1" fill="url(#atomC)"/><circle cx="154.1" cy="760.8" r="2.1" fill="url(#atomC)"/><circle cx="147.3" cy="736.3" r="2.55" fill="url(#atomN)"/><circle cx="155.5" cy="736.3" r="2.55" fill="url(#atomO)"/><circle cx="146.1" cy="741.3" r="2.55" fill="url(#atomO)"/><circle cx="154.1" cy="744.5" r="2.55" fill="url(#atomN)"/><circle cx="153.6" cy="752.6" r="2.55" fill="url(#atomO)"/><circle cx="146.1" cy="757.0" r="2.55" fill="url(#atomN)"/><circle cx="146.1" cy="764.0" r="2.55" fill="url(#atomO)"/><circle cx="154.1" cy="766.5" r="2.55" fill="url(#atomN)"/><circle cx="162.1" cy="750.8" r="2.1" fill="url(#atomC)"/><circle cx="170.1" cy="760.8" r="2.1" fill="url(#atomC)"/><circle cx="163.3" cy="736.3" r="2.55" fill="url(#atomN)"/><circle cx="171.5" cy="736.3" r="2.55" fill="url(#atomO)"/><circle cx="162.1" cy="741.3" r="2.55" fill="url(#atomO)"/><circle cx="170.1" cy="744.5" r="2.55" fill="url(#atomN)"/><circle cx="169.6" cy="752.6" r="2.55" fill="url(#atomO)"/><circle cx="162.1" cy="757.0" r="2.55" fill="url(#atomN)"/><circle cx="162.1" cy="764.0" r="2.55" fill="url(#atomO)"/><circle cx="170.1" cy="766.5" r="2.55" fill="url(#atomN)"/><circle cx="178.1" cy="750.8" r="2.1" fill="url(#atomC)"/><circle cx="186.1" cy="760.8" r="2.1" fill="url(#atomC)"/><circle cx="179.3" cy="736.3" r="2.55" fill="url(#atomN)"/><circle cx="187.5" cy="736.3" r="2.55" fill="url(#atomO)"/><circle cx="178.1" cy="741.3" r="2.55" fill="url(#atomO)"/><circle cx="186.1" cy="744.5" r="2.55" fill="url(#atomN)"/><circle cx="185.6" cy="752.6" r="2.55" fill="url(#atomO)"/><circle cx="178.1" cy="757.0" r="2.55" fill="url(#atomN)"/><circle cx="178.1" cy="764.0" r="2.55" fill="url(#atomO)"/><circle cx="186.1" cy="766.5" r="2.55" fill="url(#atomN)"/><circle cx="194.1" cy="750.8" r="2.1" fill="url(#atomC)"/><circle cx="202.1" cy="760.8" r="2.1" fill="url(#atomC)"/><circle cx="195.3" cy="736.3" r="2.55" fill="url(#atomN)"/><circle cx="203.5" cy="736.3" r="2.55" fill="url(#atomO)"/><circle cx="194.1" cy="741.3" r="2.55" fill="url(#atomO)"/><circle cx="202.1" cy="744.5" r="2.55" fill="url(#atomN)"/><circle cx="201.6" cy="752.6" r="2.55" fill="url(#atomO)"/><circle cx="194.1" cy="757.0" r="2.55" fill="url(#atomN)"/><circle cx="194.1" cy="764.0" r="2.55" fill="url(#atomO)"/><circle cx="202.1" cy="766.5" r="2.55" fill="url(#atomN)"/><circle cx="210.1" cy="750.8" r="2.1" fill="url(#atomC)"/><circle cx="218.1" cy="760.8" r="2.1" fill="url(#atomC)"/><circle cx="211.3" cy="736.3" r="2.55" fill="url(#atomN)"/><circle cx="219.5" cy="736.3" r="2.55" fill="url(#atomO)"/><circle cx="210.1" cy="741.3" r="2.55" fill="url(#atomO)"/><circle cx="218.1" cy="744.5" r="2.55" fill="url(#atomN)"/><circle cx="217.6" cy="752.6" r="2.55" fill="url(#atomO)"/><circle cx="210.1" cy="757.0" r="2.55" fill="url(#atomN)"/><circle cx="210.1" cy="764.0" r="2.55" fill="url(#atomO)"/><circle cx="218.1" cy="766.5" r="2.55" fill="url(#atomN)"/><circle cx="226.1" cy="750.8" r="2.1" fill="url(#atomC)"/><circle cx="234.1" cy="760.8" r="2.1" fill="url(#atomC)"/><circle cx="227.3" cy="736.3" r="2.55" fill="url(#atomN)"/><circle cx="235.5" cy="736.3" r="2.55" fill="url(#atomO)"/><circle cx="226.1" cy="741.3" r="2.55" fill="url(#atomO)"/><circle cx="234.1" cy="744.5" r="2.55" fill="url(#atomN)"/><circle cx="233.6" cy="752.6" r="2.55" fill="url(#atomO)"/><circle cx="226.1" cy="757.0" r="2.55" fill="url(#atomN)"/><circle cx="226.1" cy="764.0" r="2.55" fill="url(#atomO)"/><circle cx="234.1" cy="766.5" r="2.55" fill="url(#atomN)"/>
<path d="M84.8,719.5 L93.8,719.5 L93.8,730.5 C87.1,740.5 87.1,760.5 93.8,770.5 L93.8,781.6 L84.8,781.6 L84.8,770.5 C75.5,760.5 75.5,740.5 84.8,730.5 Z" fill="#f4bcb7"/>
<path d="M93.8,730.5 C87.1,740.5 87.1,760.5 93.8,770.5 L84.8,770.5 C75.5,760.5 75.5,740.5 84.8,730.5 Z" fill="url(#bandc)"/>
<path d="M96.6,719.5 L105.6,719.5 L105.6,730.5 C98.89999999999999,740.5 98.89999999999999,760.5 105.6,770.5 L105.6,781.6 L96.6,781.6 L96.6,770.5 C87.3,760.5 87.3,740.5 96.6,730.5 Z" fill="#f4bcb7"/>
<path d="M105.6,730.5 C98.89999999999999,740.5 98.89999999999999,760.5 105.6,770.5 L96.6,770.5 C87.3,760.5 87.3,740.5 96.6,730.5 Z" fill="url(#bandc)"/>
<path d="M188.6,719.5 L197.6,719.5 L197.6,730.5 C190.9,740.5 190.9,760.5 197.6,770.5 L197.6,781.6 L188.6,781.6 L188.6,770.5 C179.29999999999998,760.5 179.29999999999998,740.5 188.6,730.5 Z" fill="#f4bcb7"/>
<path d="M197.6,730.5 C190.9,740.5 190.9,760.5 197.6,770.5 L188.6,770.5 C179.29999999999998,760.5 179.29999999999998,740.5 188.6,730.5 Z" fill="url(#bandc)"/>
<path d="M200.0,719.5 L209.0,719.5 L209.0,730.5 C202.3,740.5 202.3,760.5 209.0,770.5 L209.0,781.6 L200.0,781.6 L200.0,770.5 C190.7,760.5 190.7,740.5 200.0,730.5 Z" fill="#f4bcb7"/>
<path d="M209.0,730.5 C202.3,740.5 202.3,760.5 209.0,770.5 L200.0,770.5 C190.7,760.5 190.7,740.5 200.0,730.5 Z" fill="url(#bandc)"/>
<polyline points="87,776.5999999999999 87,800.7 163.3,800.7" fill="none" stroke="#222" stroke-width="1.3"/>
<polyline points="169.3,800.7 204.8,800.7 204.8,776.5999999999999" fill="none" stroke="#222" stroke-width="1.3"/>
<polyline points="97,776.5999999999999 97,788.5 191.5,788.5 191.5,776.5999999999999" fill="none" stroke="#222" stroke-width="1.3"/>
<line x1="163.30" y1="795.40" x2="163.30" y2="806.00" stroke="#222" stroke-width="1.5"/>
<line x1="169.30" y1="792.20" x2="169.30" y2="809.20" stroke="#222" stroke-width="1.5"/>
<circle cx="109.7" cy="800.7" r="8.6" fill="#a9cbe8"/>
<text x="109.70" y="805.70" font-size="13.5" fill="#fff" text-anchor="middle">A</text>
<circle cx="142.6" cy="788.5" r="8.6" fill="#a9cbe8"/>
<text x="142.60" y="793.50" font-size="13.5" fill="#fff" text-anchor="middle">V</text>
<circle cx="87" cy="776.5999999999999" r="3.0" fill="#000"/>
<circle cx="97" cy="776.5999999999999" r="3.0" fill="#000"/>
<circle cx="191.5" cy="776.5999999999999" r="3.0" fill="#000"/>
<circle cx="204.8" cy="776.5999999999999" r="3.0" fill="#000"/>
</svg></body></html>
